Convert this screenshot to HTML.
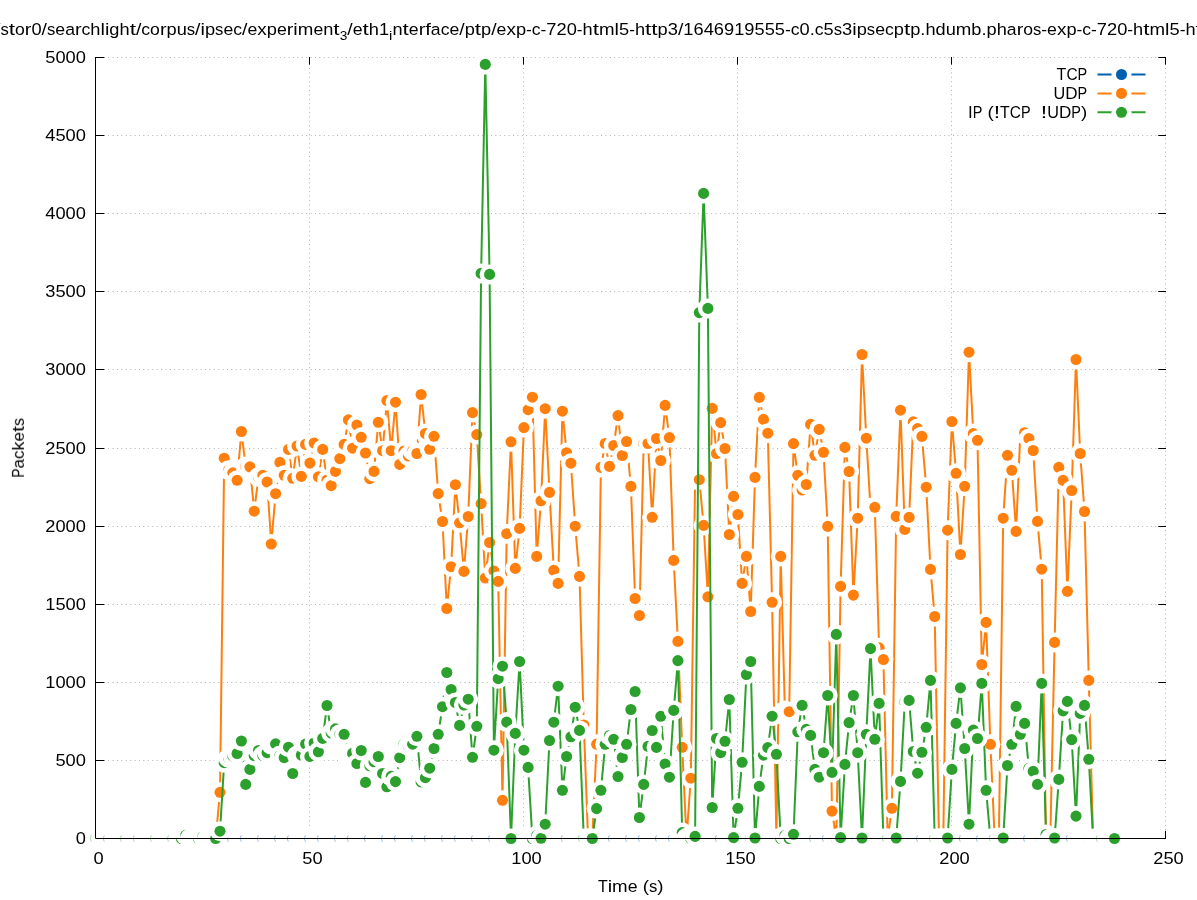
<!DOCTYPE html>
<html><head><meta charset="utf-8"><title>plot</title>
<style>html,body{margin:0;padding:0;background:#fff}svg{display:block}text{font-family:"Liberation Sans",sans-serif;fill:#000}</style></head><body>
<svg width="1197" height="900" viewBox="0 0 1197 900">
<rect width="1197" height="900" fill="#fff"/>
<g stroke="#b4b4b4" stroke-width="1" stroke-dasharray="1 3.4" fill="none">
<path d="M95 838.5H1166"/>
<path d="M95 760.5H1166"/>
<path d="M95 682.5H1166"/>
<path d="M95 604.5H1166"/>
<path d="M95 526.5H1166"/>
<path d="M95 448.5H1166"/>
<path d="M95 369.5H1166"/>
<path d="M95 291.5H1166"/>
<path d="M95 213.5H1166"/>
<path d="M95 135.5H1166"/>
<path d="M95 57.5H1166"/>
<path d="M95.5 839V57"/>
<path d="M309.5 839V57"/>
<path d="M523.5 839V57"/>
<path d="M737.5 839V57"/>
<path d="M951.5 839V57"/>
<path d="M1165.5 839V57"/>
</g>
<g stroke="#000" stroke-width="1" fill="none">
<path d="M95.5 838.5h8.8M1166 838.5h-7.8"/>
<path d="M95.5 760.5h8.8M1166 760.5h-7.8"/>
<path d="M95.5 682.5h8.8M1166 682.5h-7.8"/>
<path d="M95.5 604.5h8.8M1166 604.5h-7.8"/>
<path d="M95.5 526.5h8.8M1166 526.5h-7.8"/>
<path d="M95.5 448.5h8.8M1166 448.5h-7.8"/>
<path d="M95.5 369.5h8.8M1166 369.5h-7.8"/>
<path d="M95.5 291.5h8.8M1166 291.5h-7.8"/>
<path d="M95.5 213.5h8.8M1166 213.5h-7.8"/>
<path d="M95.5 135.5h8.8M1166 135.5h-7.8"/>
<path d="M95.5 57.5h8.8M1166 57.5h-7.8"/>
<path d="M95.5 838.5v-7.6M95.5 57v7.6"/>
<path d="M309.5 838.5v-7.6M309.5 57v7.6"/>
<path d="M523.5 838.5v-7.6M523.5 57v7.6"/>
<path d="M737.5 838.5v-7.6M737.5 57v7.6"/>
<path d="M951.5 838.5v-7.6M951.5 57v7.6"/>
<path d="M1165.5 838.5v-7.6M1165.5 57v7.6"/>
</g>
<g opacity="0.999">
<text x="75.82" y="843.90" font-size="16.90" textLength="10.18" lengthAdjust="spacingAndGlyphs">0</text>
<text x="55.46" y="765.90" font-size="16.90" textLength="10.18" lengthAdjust="spacingAndGlyphs">5</text>
<text x="65.64" y="765.90" font-size="16.90" textLength="10.18" lengthAdjust="spacingAndGlyphs">0</text>
<text x="75.82" y="765.90" font-size="16.90" textLength="10.18" lengthAdjust="spacingAndGlyphs">0</text>
<text x="45.28" y="687.90" font-size="16.90" textLength="10.18" lengthAdjust="spacingAndGlyphs">1</text>
<text x="55.46" y="687.90" font-size="16.90" textLength="10.18" lengthAdjust="spacingAndGlyphs">0</text>
<text x="65.64" y="687.90" font-size="16.90" textLength="10.18" lengthAdjust="spacingAndGlyphs">0</text>
<text x="75.82" y="687.90" font-size="16.90" textLength="10.18" lengthAdjust="spacingAndGlyphs">0</text>
<text x="45.28" y="609.90" font-size="16.90" textLength="10.18" lengthAdjust="spacingAndGlyphs">1</text>
<text x="55.46" y="609.90" font-size="16.90" textLength="10.18" lengthAdjust="spacingAndGlyphs">5</text>
<text x="65.64" y="609.90" font-size="16.90" textLength="10.18" lengthAdjust="spacingAndGlyphs">0</text>
<text x="75.82" y="609.90" font-size="16.90" textLength="10.18" lengthAdjust="spacingAndGlyphs">0</text>
<text x="45.28" y="531.90" font-size="16.90" textLength="10.18" lengthAdjust="spacingAndGlyphs">2</text>
<text x="55.46" y="531.90" font-size="16.90" textLength="10.18" lengthAdjust="spacingAndGlyphs">0</text>
<text x="65.64" y="531.90" font-size="16.90" textLength="10.18" lengthAdjust="spacingAndGlyphs">0</text>
<text x="75.82" y="531.90" font-size="16.90" textLength="10.18" lengthAdjust="spacingAndGlyphs">0</text>
<text x="45.28" y="453.90" font-size="16.90" textLength="10.18" lengthAdjust="spacingAndGlyphs">2</text>
<text x="55.46" y="453.90" font-size="16.90" textLength="10.18" lengthAdjust="spacingAndGlyphs">5</text>
<text x="65.64" y="453.90" font-size="16.90" textLength="10.18" lengthAdjust="spacingAndGlyphs">0</text>
<text x="75.82" y="453.90" font-size="16.90" textLength="10.18" lengthAdjust="spacingAndGlyphs">0</text>
<text x="45.28" y="374.90" font-size="16.90" textLength="10.18" lengthAdjust="spacingAndGlyphs">3</text>
<text x="55.46" y="374.90" font-size="16.90" textLength="10.18" lengthAdjust="spacingAndGlyphs">0</text>
<text x="65.64" y="374.90" font-size="16.90" textLength="10.18" lengthAdjust="spacingAndGlyphs">0</text>
<text x="75.82" y="374.90" font-size="16.90" textLength="10.18" lengthAdjust="spacingAndGlyphs">0</text>
<text x="45.28" y="296.90" font-size="16.90" textLength="10.18" lengthAdjust="spacingAndGlyphs">3</text>
<text x="55.46" y="296.90" font-size="16.90" textLength="10.18" lengthAdjust="spacingAndGlyphs">5</text>
<text x="65.64" y="296.90" font-size="16.90" textLength="10.18" lengthAdjust="spacingAndGlyphs">0</text>
<text x="75.82" y="296.90" font-size="16.90" textLength="10.18" lengthAdjust="spacingAndGlyphs">0</text>
<text x="45.28" y="218.90" font-size="16.90" textLength="10.18" lengthAdjust="spacingAndGlyphs">4</text>
<text x="55.46" y="218.90" font-size="16.90" textLength="10.18" lengthAdjust="spacingAndGlyphs">0</text>
<text x="65.64" y="218.90" font-size="16.90" textLength="10.18" lengthAdjust="spacingAndGlyphs">0</text>
<text x="75.82" y="218.90" font-size="16.90" textLength="10.18" lengthAdjust="spacingAndGlyphs">0</text>
<text x="45.28" y="140.90" font-size="16.90" textLength="10.18" lengthAdjust="spacingAndGlyphs">4</text>
<text x="55.46" y="140.90" font-size="16.90" textLength="10.18" lengthAdjust="spacingAndGlyphs">5</text>
<text x="65.64" y="140.90" font-size="16.90" textLength="10.18" lengthAdjust="spacingAndGlyphs">0</text>
<text x="75.82" y="140.90" font-size="16.90" textLength="10.18" lengthAdjust="spacingAndGlyphs">0</text>
<text x="45.28" y="62.90" font-size="16.90" textLength="10.18" lengthAdjust="spacingAndGlyphs">5</text>
<text x="55.46" y="62.90" font-size="16.90" textLength="10.18" lengthAdjust="spacingAndGlyphs">0</text>
<text x="65.64" y="62.90" font-size="16.90" textLength="10.18" lengthAdjust="spacingAndGlyphs">0</text>
<text x="75.82" y="62.90" font-size="16.90" textLength="10.18" lengthAdjust="spacingAndGlyphs">0</text>
<text x="93.41" y="863.60" font-size="16.90" textLength="10.18" lengthAdjust="spacingAndGlyphs">0</text>
<text x="302.32" y="863.60" font-size="16.90" textLength="10.18" lengthAdjust="spacingAndGlyphs">5</text>
<text x="312.50" y="863.60" font-size="16.90" textLength="10.18" lengthAdjust="spacingAndGlyphs">0</text>
<text x="511.23" y="863.60" font-size="16.90" textLength="10.18" lengthAdjust="spacingAndGlyphs">1</text>
<text x="521.41" y="863.60" font-size="16.90" textLength="10.18" lengthAdjust="spacingAndGlyphs">0</text>
<text x="531.59" y="863.60" font-size="16.90" textLength="10.18" lengthAdjust="spacingAndGlyphs">0</text>
<text x="725.23" y="863.60" font-size="16.90" textLength="10.18" lengthAdjust="spacingAndGlyphs">1</text>
<text x="735.41" y="863.60" font-size="16.90" textLength="10.18" lengthAdjust="spacingAndGlyphs">5</text>
<text x="745.59" y="863.60" font-size="16.90" textLength="10.18" lengthAdjust="spacingAndGlyphs">0</text>
<text x="939.23" y="863.60" font-size="16.90" textLength="10.18" lengthAdjust="spacingAndGlyphs">2</text>
<text x="949.41" y="863.60" font-size="16.90" textLength="10.18" lengthAdjust="spacingAndGlyphs">0</text>
<text x="959.59" y="863.60" font-size="16.90" textLength="10.18" lengthAdjust="spacingAndGlyphs">0</text>
<text x="1153.23" y="863.60" font-size="16.90" textLength="10.18" lengthAdjust="spacingAndGlyphs">2</text>
<text x="1163.41" y="863.60" font-size="16.90" textLength="10.18" lengthAdjust="spacingAndGlyphs">5</text>
<text x="1173.59" y="863.60" font-size="16.90" textLength="10.18" lengthAdjust="spacingAndGlyphs">0</text>
<text x="597.92" y="891.90" font-size="16.90" textLength="9.77" lengthAdjust="spacingAndGlyphs">T</text>
<text x="607.70" y="891.90" font-size="16.90" textLength="4.45" lengthAdjust="spacingAndGlyphs">i</text>
<text x="612.14" y="891.90" font-size="16.90" textLength="15.59" lengthAdjust="spacingAndGlyphs">m</text>
<text x="627.73" y="891.90" font-size="16.90" textLength="9.84" lengthAdjust="spacingAndGlyphs">e</text>
<text x="642.66" y="891.90" font-size="16.90" textLength="6.24" lengthAdjust="spacingAndGlyphs">(</text>
<text x="648.90" y="891.90" font-size="16.90" textLength="8.34" lengthAdjust="spacingAndGlyphs">s</text>
<text x="657.24" y="891.90" font-size="16.90" textLength="6.24" lengthAdjust="spacingAndGlyphs">)</text>
<g transform="translate(23.9 447.8) rotate(-90) scale(0.965 1)"><text x="-30.98" y="0.00" font-size="16.90" textLength="9.65" lengthAdjust="spacingAndGlyphs">P</text>
<text x="-21.34" y="0.00" font-size="16.90" textLength="9.80" lengthAdjust="spacingAndGlyphs">a</text>
<text x="-11.53" y="0.00" font-size="16.90" textLength="8.80" lengthAdjust="spacingAndGlyphs">c</text>
<text x="-2.73" y="0.00" font-size="16.90" textLength="9.27" lengthAdjust="spacingAndGlyphs">k</text>
<text x="6.53" y="0.00" font-size="16.90" textLength="9.84" lengthAdjust="spacingAndGlyphs">e</text>
<text x="16.38" y="0.00" font-size="16.90" textLength="6.27" lengthAdjust="spacingAndGlyphs">t</text>
<text x="22.65" y="0.00" font-size="16.90" textLength="8.34" lengthAdjust="spacingAndGlyphs">s</text></g>
<text x="1056.61" y="79.90" font-size="16.90" textLength="9.77" lengthAdjust="spacingAndGlyphs">T</text>
<text x="1066.38" y="79.90" font-size="16.90" textLength="11.17" lengthAdjust="spacingAndGlyphs">C</text>
<text x="1077.55" y="79.90" font-size="16.90" textLength="9.65" lengthAdjust="spacingAndGlyphs">P</text>
<text x="1053.52" y="99.00" font-size="16.90" textLength="11.71" lengthAdjust="spacingAndGlyphs">U</text>
<text x="1065.23" y="99.00" font-size="16.90" textLength="12.32" lengthAdjust="spacingAndGlyphs">D</text>
<text x="1077.55" y="99.00" font-size="16.90" textLength="9.65" lengthAdjust="spacingAndGlyphs">P</text>
<text x="967.99" y="118.00" font-size="16.90" textLength="4.72" lengthAdjust="spacingAndGlyphs">I</text>
<text x="972.71" y="118.00" font-size="16.90" textLength="9.65" lengthAdjust="spacingAndGlyphs">P</text>
<text x="987.44" y="118.00" font-size="16.90" textLength="6.24" lengthAdjust="spacingAndGlyphs">(</text>
<text x="993.68" y="118.00" font-size="16.90" textLength="6.41" lengthAdjust="spacingAndGlyphs">!</text>
<text x="1000.10" y="118.00" font-size="16.90" textLength="9.77" lengthAdjust="spacingAndGlyphs">T</text>
<text x="1009.87" y="118.00" font-size="16.90" textLength="11.17" lengthAdjust="spacingAndGlyphs">C</text>
<text x="1021.04" y="118.00" font-size="16.90" textLength="9.65" lengthAdjust="spacingAndGlyphs">P</text>
<text x="1040.86" y="118.00" font-size="16.90" textLength="6.41" lengthAdjust="spacingAndGlyphs">!</text>
<text x="1047.28" y="118.00" font-size="16.90" textLength="11.71" lengthAdjust="spacingAndGlyphs">U</text>
<text x="1058.99" y="118.00" font-size="16.90" textLength="12.32" lengthAdjust="spacingAndGlyphs">D</text>
<text x="1071.31" y="118.00" font-size="16.90" textLength="9.65" lengthAdjust="spacingAndGlyphs">P</text>
<text x="1080.96" y="118.00" font-size="16.90" textLength="6.24" lengthAdjust="spacingAndGlyphs">)</text>
<text x="-4.96" y="35.00" font-size="16.90" textLength="5.39" lengthAdjust="spacingAndGlyphs">/</text>
<text x="0.43" y="35.00" font-size="16.90" textLength="8.34" lengthAdjust="spacingAndGlyphs">s</text>
<text x="8.77" y="35.00" font-size="16.90" textLength="6.27" lengthAdjust="spacingAndGlyphs">t</text>
<text x="15.04" y="35.00" font-size="16.90" textLength="9.79" lengthAdjust="spacingAndGlyphs">o</text>
<text x="24.83" y="35.00" font-size="16.90" textLength="6.58" lengthAdjust="spacingAndGlyphs">r</text>
<text x="31.41" y="35.00" font-size="16.90" textLength="10.18" lengthAdjust="spacingAndGlyphs">0</text>
<text x="41.59" y="35.00" font-size="16.90" textLength="5.39" lengthAdjust="spacingAndGlyphs">/</text>
<text x="46.98" y="35.00" font-size="16.90" textLength="8.34" lengthAdjust="spacingAndGlyphs">s</text>
<text x="55.31" y="35.00" font-size="16.90" textLength="9.84" lengthAdjust="spacingAndGlyphs">e</text>
<text x="65.16" y="35.00" font-size="16.90" textLength="9.80" lengthAdjust="spacingAndGlyphs">a</text>
<text x="74.96" y="35.00" font-size="16.90" textLength="6.58" lengthAdjust="spacingAndGlyphs">r</text>
<text x="81.54" y="35.00" font-size="16.90" textLength="8.80" lengthAdjust="spacingAndGlyphs">c</text>
<text x="90.34" y="35.00" font-size="16.90" textLength="10.14" lengthAdjust="spacingAndGlyphs">h</text>
<text x="100.48" y="35.00" font-size="16.90" textLength="4.45" lengthAdjust="spacingAndGlyphs">l</text>
<text x="104.92" y="35.00" font-size="16.90" textLength="4.45" lengthAdjust="spacingAndGlyphs">i</text>
<text x="109.37" y="35.00" font-size="16.90" textLength="10.16" lengthAdjust="spacingAndGlyphs">g</text>
<text x="119.52" y="35.00" font-size="16.90" textLength="10.14" lengthAdjust="spacingAndGlyphs">h</text>
<text x="129.66" y="35.00" font-size="16.90" textLength="6.27" lengthAdjust="spacingAndGlyphs">t</text>
<text x="135.94" y="35.00" font-size="16.90" textLength="5.39" lengthAdjust="spacingAndGlyphs">/</text>
<text x="141.33" y="35.00" font-size="16.90" textLength="8.80" lengthAdjust="spacingAndGlyphs">c</text>
<text x="150.13" y="35.00" font-size="16.90" textLength="9.79" lengthAdjust="spacingAndGlyphs">o</text>
<text x="159.91" y="35.00" font-size="16.90" textLength="6.58" lengthAdjust="spacingAndGlyphs">r</text>
<text x="166.49" y="35.00" font-size="16.90" textLength="10.16" lengthAdjust="spacingAndGlyphs">p</text>
<text x="176.65" y="35.00" font-size="16.90" textLength="10.14" lengthAdjust="spacingAndGlyphs">u</text>
<text x="186.79" y="35.00" font-size="16.90" textLength="8.34" lengthAdjust="spacingAndGlyphs">s</text>
<text x="195.13" y="35.00" font-size="16.90" textLength="5.39" lengthAdjust="spacingAndGlyphs">/</text>
<text x="200.52" y="35.00" font-size="16.90" textLength="4.45" lengthAdjust="spacingAndGlyphs">i</text>
<text x="204.96" y="35.00" font-size="16.90" textLength="10.16" lengthAdjust="spacingAndGlyphs">p</text>
<text x="215.12" y="35.00" font-size="16.90" textLength="8.34" lengthAdjust="spacingAndGlyphs">s</text>
<text x="223.45" y="35.00" font-size="16.90" textLength="9.84" lengthAdjust="spacingAndGlyphs">e</text>
<text x="233.30" y="35.00" font-size="16.90" textLength="8.80" lengthAdjust="spacingAndGlyphs">c</text>
<text x="242.09" y="35.00" font-size="16.90" textLength="5.39" lengthAdjust="spacingAndGlyphs">/</text>
<text x="247.49" y="35.00" font-size="16.90" textLength="9.84" lengthAdjust="spacingAndGlyphs">e</text>
<text x="257.33" y="35.00" font-size="16.90" textLength="9.47" lengthAdjust="spacingAndGlyphs">x</text>
<text x="266.80" y="35.00" font-size="16.90" textLength="10.16" lengthAdjust="spacingAndGlyphs">p</text>
<text x="276.95" y="35.00" font-size="16.90" textLength="9.84" lengthAdjust="spacingAndGlyphs">e</text>
<text x="286.80" y="35.00" font-size="16.90" textLength="6.58" lengthAdjust="spacingAndGlyphs">r</text>
<text x="293.38" y="35.00" font-size="16.90" textLength="4.45" lengthAdjust="spacingAndGlyphs">i</text>
<text x="297.82" y="35.00" font-size="16.90" textLength="15.59" lengthAdjust="spacingAndGlyphs">m</text>
<text x="313.41" y="35.00" font-size="16.90" textLength="9.84" lengthAdjust="spacingAndGlyphs">e</text>
<text x="323.25" y="35.00" font-size="16.90" textLength="10.14" lengthAdjust="spacingAndGlyphs">n</text>
<text x="333.39" y="35.00" font-size="16.90" textLength="6.27" lengthAdjust="spacingAndGlyphs">t</text>
<text x="339.66" y="39.50" font-size="12.67" textLength="7.63" lengthAdjust="spacingAndGlyphs">3</text>
<text x="347.30" y="35.00" font-size="16.90" textLength="5.39" lengthAdjust="spacingAndGlyphs">/</text>
<text x="352.69" y="35.00" font-size="16.90" textLength="9.84" lengthAdjust="spacingAndGlyphs">e</text>
<text x="362.53" y="35.00" font-size="16.90" textLength="6.27" lengthAdjust="spacingAndGlyphs">t</text>
<text x="368.81" y="35.00" font-size="16.90" textLength="10.14" lengthAdjust="spacingAndGlyphs">h</text>
<text x="378.95" y="35.00" font-size="16.90" textLength="10.18" lengthAdjust="spacingAndGlyphs">1</text>
<text x="389.13" y="39.50" font-size="12.67" textLength="3.33" lengthAdjust="spacingAndGlyphs">i</text>
<text x="392.46" y="35.00" font-size="16.90" textLength="10.13" lengthAdjust="spacingAndGlyphs">n</text>
<text x="402.59" y="35.00" font-size="16.90" textLength="6.27" lengthAdjust="spacingAndGlyphs">t</text>
<text x="408.86" y="35.00" font-size="16.90" textLength="9.83" lengthAdjust="spacingAndGlyphs">e</text>
<text x="418.69" y="35.00" font-size="16.90" textLength="6.57" lengthAdjust="spacingAndGlyphs">r</text>
<text x="425.26" y="35.00" font-size="16.90" textLength="5.63" lengthAdjust="spacingAndGlyphs">f</text>
<text x="430.88" y="35.00" font-size="16.90" textLength="9.79" lengthAdjust="spacingAndGlyphs">a</text>
<text x="440.68" y="35.00" font-size="16.90" textLength="8.79" lengthAdjust="spacingAndGlyphs">c</text>
<text x="449.46" y="35.00" font-size="16.90" textLength="9.83" lengthAdjust="spacingAndGlyphs">e</text>
<text x="459.30" y="35.00" font-size="16.90" textLength="5.38" lengthAdjust="spacingAndGlyphs">/</text>
<text x="464.68" y="35.00" font-size="16.90" textLength="10.14" lengthAdjust="spacingAndGlyphs">p</text>
<text x="474.82" y="35.00" font-size="16.90" textLength="6.27" lengthAdjust="spacingAndGlyphs">t</text>
<text x="481.09" y="35.00" font-size="16.90" textLength="10.14" lengthAdjust="spacingAndGlyphs">p</text>
<text x="491.23" y="35.00" font-size="16.90" textLength="5.38" lengthAdjust="spacingAndGlyphs">/</text>
<text x="496.62" y="35.00" font-size="16.90" textLength="9.83" lengthAdjust="spacingAndGlyphs">e</text>
<text x="506.45" y="35.00" font-size="16.90" textLength="9.46" lengthAdjust="spacingAndGlyphs">x</text>
<text x="515.91" y="35.00" font-size="16.90" textLength="10.14" lengthAdjust="spacingAndGlyphs">p</text>
<text x="526.05" y="35.00" font-size="16.90" textLength="5.77" lengthAdjust="spacingAndGlyphs">-</text>
<text x="531.82" y="35.00" font-size="16.90" textLength="8.79" lengthAdjust="spacingAndGlyphs">c</text>
<text x="540.60" y="35.00" font-size="16.90" textLength="5.77" lengthAdjust="spacingAndGlyphs">-</text>
<text x="546.37" y="35.00" font-size="16.90" textLength="10.17" lengthAdjust="spacingAndGlyphs">7</text>
<text x="556.54" y="35.00" font-size="16.90" textLength="10.17" lengthAdjust="spacingAndGlyphs">2</text>
<text x="566.71" y="35.00" font-size="16.90" textLength="10.17" lengthAdjust="spacingAndGlyphs">0</text>
<text x="576.87" y="35.00" font-size="16.90" textLength="5.77" lengthAdjust="spacingAndGlyphs">-</text>
<text x="582.64" y="35.00" font-size="16.90" textLength="10.13" lengthAdjust="spacingAndGlyphs">h</text>
<text x="592.77" y="35.00" font-size="16.90" textLength="6.27" lengthAdjust="spacingAndGlyphs">t</text>
<text x="599.03" y="35.00" font-size="16.90" textLength="15.57" lengthAdjust="spacingAndGlyphs">m</text>
<text x="614.60" y="35.00" font-size="16.90" textLength="4.44" lengthAdjust="spacingAndGlyphs">l</text>
<text x="619.04" y="35.00" font-size="16.90" textLength="10.17" lengthAdjust="spacingAndGlyphs">5</text>
<text x="629.21" y="35.00" font-size="16.90" textLength="5.77" lengthAdjust="spacingAndGlyphs">-</text>
<text x="634.98" y="35.00" font-size="16.90" textLength="10.13" lengthAdjust="spacingAndGlyphs">h</text>
<text x="645.10" y="35.00" font-size="16.90" textLength="6.27" lengthAdjust="spacingAndGlyphs">t</text>
<text x="651.37" y="35.00" font-size="16.90" textLength="6.27" lengthAdjust="spacingAndGlyphs">t</text>
<text x="657.64" y="35.00" font-size="16.90" textLength="10.14" lengthAdjust="spacingAndGlyphs">p</text>
<text x="667.78" y="35.00" font-size="16.90" textLength="10.17" lengthAdjust="spacingAndGlyphs">3</text>
<text x="677.95" y="35.00" font-size="16.90" textLength="5.38" lengthAdjust="spacingAndGlyphs">/</text>
<text x="683.33" y="35.00" font-size="16.90" textLength="10.17" lengthAdjust="spacingAndGlyphs">1</text>
<text x="693.50" y="35.00" font-size="16.90" textLength="10.17" lengthAdjust="spacingAndGlyphs">6</text>
<text x="703.67" y="35.00" font-size="16.90" textLength="10.17" lengthAdjust="spacingAndGlyphs">4</text>
<text x="713.83" y="35.00" font-size="16.90" textLength="10.17" lengthAdjust="spacingAndGlyphs">6</text>
<text x="724.00" y="35.00" font-size="16.90" textLength="10.17" lengthAdjust="spacingAndGlyphs">9</text>
<text x="734.17" y="35.00" font-size="16.90" textLength="10.17" lengthAdjust="spacingAndGlyphs">1</text>
<text x="744.34" y="35.00" font-size="16.90" textLength="10.17" lengthAdjust="spacingAndGlyphs">9</text>
<text x="754.50" y="35.00" font-size="16.90" textLength="10.17" lengthAdjust="spacingAndGlyphs">5</text>
<text x="764.67" y="35.00" font-size="16.90" textLength="10.17" lengthAdjust="spacingAndGlyphs">5</text>
<text x="774.84" y="35.00" font-size="16.90" textLength="10.17" lengthAdjust="spacingAndGlyphs">5</text>
<text x="785.01" y="35.00" font-size="16.90" textLength="5.77" lengthAdjust="spacingAndGlyphs">-</text>
<text x="790.77" y="35.00" font-size="16.90" textLength="8.79" lengthAdjust="spacingAndGlyphs">c</text>
<text x="799.56" y="35.00" font-size="16.90" textLength="10.17" lengthAdjust="spacingAndGlyphs">0</text>
<text x="809.73" y="35.00" font-size="16.90" textLength="5.08" lengthAdjust="spacingAndGlyphs">.</text>
<text x="814.81" y="35.00" font-size="16.90" textLength="8.79" lengthAdjust="spacingAndGlyphs">c</text>
<text x="823.59" y="35.00" font-size="16.90" textLength="10.17" lengthAdjust="spacingAndGlyphs">5</text>
<text x="833.76" y="35.00" font-size="16.90" textLength="8.33" lengthAdjust="spacingAndGlyphs">s</text>
<text x="842.09" y="35.00" font-size="16.90" textLength="10.17" lengthAdjust="spacingAndGlyphs">3</text>
<text x="852.25" y="35.00" font-size="16.90" textLength="4.44" lengthAdjust="spacingAndGlyphs">i</text>
<text x="856.69" y="35.00" font-size="16.90" textLength="10.14" lengthAdjust="spacingAndGlyphs">p</text>
<text x="866.84" y="35.00" font-size="16.90" textLength="8.33" lengthAdjust="spacingAndGlyphs">s</text>
<text x="875.16" y="35.00" font-size="16.90" textLength="9.83" lengthAdjust="spacingAndGlyphs">e</text>
<text x="885.00" y="35.00" font-size="16.90" textLength="8.79" lengthAdjust="spacingAndGlyphs">c</text>
<text x="893.78" y="35.00" font-size="16.90" textLength="10.14" lengthAdjust="spacingAndGlyphs">p</text>
<text x="903.93" y="35.00" font-size="16.90" textLength="6.27" lengthAdjust="spacingAndGlyphs">t</text>
<text x="910.19" y="35.00" font-size="16.90" textLength="10.14" lengthAdjust="spacingAndGlyphs">p</text>
<text x="920.34" y="35.00" font-size="16.90" textLength="5.08" lengthAdjust="spacingAndGlyphs">.</text>
<text x="925.42" y="35.00" font-size="16.90" textLength="10.13" lengthAdjust="spacingAndGlyphs">h</text>
<text x="935.54" y="35.00" font-size="16.90" textLength="10.14" lengthAdjust="spacingAndGlyphs">d</text>
<text x="945.69" y="35.00" font-size="16.90" textLength="10.13" lengthAdjust="spacingAndGlyphs">u</text>
<text x="955.82" y="35.00" font-size="16.90" textLength="15.57" lengthAdjust="spacingAndGlyphs">m</text>
<text x="971.38" y="35.00" font-size="16.90" textLength="10.14" lengthAdjust="spacingAndGlyphs">b</text>
<text x="981.53" y="35.00" font-size="16.90" textLength="5.08" lengthAdjust="spacingAndGlyphs">.</text>
<text x="986.61" y="35.00" font-size="16.90" textLength="10.14" lengthAdjust="spacingAndGlyphs">p</text>
<text x="996.75" y="35.00" font-size="16.90" textLength="10.13" lengthAdjust="spacingAndGlyphs">h</text>
<text x="1006.88" y="35.00" font-size="16.90" textLength="9.79" lengthAdjust="spacingAndGlyphs">a</text>
<text x="1016.67" y="35.00" font-size="16.90" textLength="6.57" lengthAdjust="spacingAndGlyphs">r</text>
<text x="1023.24" y="35.00" font-size="16.90" textLength="9.78" lengthAdjust="spacingAndGlyphs">o</text>
<text x="1033.02" y="35.00" font-size="16.90" textLength="8.33" lengthAdjust="spacingAndGlyphs">s</text>
<text x="1041.35" y="35.00" font-size="16.90" textLength="5.77" lengthAdjust="spacingAndGlyphs">-</text>
<text x="1047.11" y="35.00" font-size="16.90" textLength="9.83" lengthAdjust="spacingAndGlyphs">e</text>
<text x="1056.94" y="35.00" font-size="16.90" textLength="9.46" lengthAdjust="spacingAndGlyphs">x</text>
<text x="1066.40" y="35.00" font-size="16.90" textLength="10.14" lengthAdjust="spacingAndGlyphs">p</text>
<text x="1076.55" y="35.00" font-size="16.90" textLength="5.77" lengthAdjust="spacingAndGlyphs">-</text>
<text x="1082.31" y="35.00" font-size="16.90" textLength="8.79" lengthAdjust="spacingAndGlyphs">c</text>
<text x="1091.10" y="35.00" font-size="16.90" textLength="5.77" lengthAdjust="spacingAndGlyphs">-</text>
<text x="1096.87" y="35.00" font-size="16.90" textLength="10.17" lengthAdjust="spacingAndGlyphs">7</text>
<text x="1107.03" y="35.00" font-size="16.90" textLength="10.17" lengthAdjust="spacingAndGlyphs">2</text>
<text x="1117.20" y="35.00" font-size="16.90" textLength="10.17" lengthAdjust="spacingAndGlyphs">0</text>
<text x="1127.37" y="35.00" font-size="16.90" textLength="5.77" lengthAdjust="spacingAndGlyphs">-</text>
<text x="1133.13" y="35.00" font-size="16.90" textLength="10.13" lengthAdjust="spacingAndGlyphs">h</text>
<text x="1143.26" y="35.00" font-size="16.90" textLength="6.27" lengthAdjust="spacingAndGlyphs">t</text>
<text x="1149.53" y="35.00" font-size="16.90" textLength="15.57" lengthAdjust="spacingAndGlyphs">m</text>
<text x="1165.10" y="35.00" font-size="16.90" textLength="4.44" lengthAdjust="spacingAndGlyphs">l</text>
<text x="1169.54" y="35.00" font-size="16.90" textLength="10.17" lengthAdjust="spacingAndGlyphs">5</text>
<text x="1179.70" y="35.00" font-size="16.90" textLength="5.77" lengthAdjust="spacingAndGlyphs">-</text>
<text x="1185.47" y="35.00" font-size="16.90" textLength="10.13" lengthAdjust="spacingAndGlyphs">h</text>
<text x="1195.60" y="35.00" font-size="16.90" textLength="6.27" lengthAdjust="spacingAndGlyphs">t</text>
<text x="1201.86" y="35.00" font-size="16.90" textLength="6.27" lengthAdjust="spacingAndGlyphs">t</text>
<text x="1208.13" y="35.00" font-size="16.90" textLength="10.14" lengthAdjust="spacingAndGlyphs">p</text>
<text x="1218.27" y="35.00" font-size="16.90" textLength="10.17" lengthAdjust="spacingAndGlyphs">3</text>
</g>
<path d="M1097.5 74.5H1145.5" stroke="#0060ad" stroke-width="2"/><circle cx="1121.5" cy="74.5" r="10.0" fill="#fff"/><circle cx="1121.5" cy="74.5" r="5.55" fill="#0060ad"/>
<path d="M1097.5 93.4H1145.5" stroke="#ff7f0e" stroke-width="2"/><circle cx="1121.5" cy="93.4" r="10.0" fill="#fff"/><circle cx="1121.5" cy="93.4" r="5.55" fill="#ff7f0e"/>
<path d="M1097.5 112.3H1145.5" stroke="#2ca02c" stroke-width="2"/><circle cx="1121.5" cy="112.3" r="10.0" fill="#fff"/><circle cx="1121.5" cy="112.3" r="5.55" fill="#2ca02c"/>
<g fill="#0060ad">
<path d="M95.8 838.5 L100.1 838.5 L104.4 838.5 L108.7 838.5 L113.0 838.5 L117.2 838.5 L121.5 838.5 L125.8 838.5 L130.1 838.5 L134.4 838.5 L138.7 838.5 L142.9 838.5 L147.2 838.5 L151.5 838.5 L155.8 838.5 L160.1 838.5 L164.3 838.5 L168.6 838.5 L172.9 838.5 L177.2 838.5 L181.4 838.5 L185.7 838.5 L190.0 838.5 L194.3 838.5 L198.6 838.5 L202.8 838.5 L207.1 838.5 L211.4 838.5 L215.7 838.5 L220.0 838.5 L224.2 838.5 L228.5 838.5 L232.8 838.5 L237.1 838.5 L241.4 838.5 L245.7 838.5 L249.9 838.5 L254.2 838.5 L258.5 838.5 L262.8 838.5 L267.1 838.5 L271.3 838.5 L275.6 838.5 L279.9 838.5 L284.2 838.5 L288.5 838.5 L292.7 838.5 L297.0 838.5 L301.3 838.5 L305.6 838.5 L309.9 838.5 L314.1 838.5 L318.4 838.5 L322.7 838.5 L327.0 838.5 L331.2 838.5 L335.5 838.5 L339.8 838.5 L344.1 838.5 L348.4 838.5 L352.6 838.5 L356.9 838.5 L361.2 838.5 L365.5 838.5 L369.8 838.5 L374.0 838.5 L378.3 838.5 L382.6 838.5 L386.9 838.5 L391.2 838.5 L395.5 838.5 L399.7 838.5 L404.0 838.5 L408.3 838.5 L412.6 838.5 L416.9 838.5 L421.1 838.5 L425.4 838.5 L429.7 838.5 L434.0 838.5 L438.2 838.5 L442.5 838.5 L446.8 838.5 L451.1 838.5 L455.4 838.5 L459.6 838.5 L463.9 838.5 L468.2 838.5 L472.5 838.5 L476.8 838.5 L481.1 838.5 L485.3 838.5 L489.6 838.5 L493.9 838.5 L498.2 838.5 L502.5 838.5 L506.7 838.5 L511.0 838.5 L515.3 838.5 L519.6 838.5 L523.9 838.5 L528.1 838.5 L532.4 838.5 L536.7 838.5 L541.0 838.5 L545.2 838.5 L549.5 838.5 L553.8 838.5 L558.1 838.5 L562.4 838.5 L566.6 838.5 L570.9 838.5 L575.2 838.5 L579.5 838.5 L583.8 838.5 L588.1 838.5 L592.3 838.5 L596.6 838.5 L600.9 838.5 L605.2 838.5 L609.5 838.5 L613.7 838.5 L618.0 838.5 L622.3 838.5 L626.6 838.5 L630.9 838.5 L635.1 838.5 L639.4 838.5 L643.7 838.5 L648.0 838.5 L652.2 838.5 L656.5 838.5 L660.8 838.5 L665.1 838.5 L669.4 838.5 L673.7 838.5 L677.9 838.5 L682.2 838.5 L686.5 838.5 L690.8 838.5 L695.1 838.5 L699.3 838.5 L703.6 838.5 L707.9 838.5 L712.2 838.5 L716.5 838.5 L720.7 838.5 L725.0 838.5 L729.3 838.5 L733.6 838.5 L737.9 838.5 L742.1 838.5 L746.4 838.5 L750.7 838.5 L755.0 838.5 L759.3 838.5 L763.5 838.5 L767.8 838.5 L772.1 838.5 L776.4 838.5 L780.7 838.5 L784.9 838.5 L789.2 838.5 L793.5 838.5 L797.8 838.5 L802.1 838.5 L806.3 838.5 L810.6 838.5 L814.9 838.5 L819.2 838.5 L823.5 838.5 L827.7 838.5 L832.0 838.5 L836.3 838.5 L840.6 838.5 L844.9 838.5 L849.1 838.5 L853.4 838.5 L857.7 838.5 L862.0 838.5 L866.3 838.5 L870.5 838.5 L874.8 838.5 L879.1 838.5 L883.4 838.5 L887.7 838.5 L891.9 838.5 L896.2 838.5 L900.5 838.5 L904.8 838.5 L909.1 838.5 L913.3 838.5 L917.6 838.5 L921.9 838.5 L926.2 838.5 L930.5 838.5 L934.7 838.5 L939.0 838.5 L943.3 838.5 L947.6 838.5 L951.9 838.5 L956.1 838.5 L960.4 838.5 L964.7 838.5 L969.0 838.5 L973.3 838.5 L977.5 838.5 L981.8 838.5 L986.1 838.5 L990.4 838.5 L994.7 838.5 L998.9 838.5 L1003.2 838.5 L1007.5 838.5 L1011.8 838.5 L1016.1 838.5 L1020.3 838.5 L1024.6 838.5 L1028.9 838.5 L1033.2 838.5 L1037.5 838.5 L1041.7 838.5 L1046.0 838.5 L1050.3 838.5 L1054.6 838.5 L1058.8 838.5 L1063.1 838.5 L1067.4 838.5 L1071.7 838.5 L1076.0 838.5 L1080.2 838.5 L1084.5 838.5 L1088.8 838.5 L1093.1 838.5 L1097.4 838.5 L1101.7 838.5 L1105.9 838.5 L1110.2 838.5 L1114.5 838.5" fill="none" stroke="#0060ad" stroke-width="2" stroke-linejoin="round"/>
<circle cx="95.8" cy="838.5" r="10.0" fill="#fff"/>
<circle cx="100.1" cy="838.5" r="10.0" fill="#fff"/>
<circle cx="104.4" cy="838.5" r="10.0" fill="#fff"/>
<circle cx="108.7" cy="838.5" r="10.0" fill="#fff"/>
<circle cx="113.0" cy="838.5" r="10.0" fill="#fff"/>
<circle cx="117.2" cy="838.5" r="10.0" fill="#fff"/>
<circle cx="121.5" cy="838.5" r="10.0" fill="#fff"/>
<circle cx="125.8" cy="838.5" r="10.0" fill="#fff"/>
<circle cx="130.1" cy="838.5" r="10.0" fill="#fff"/>
<circle cx="134.4" cy="838.5" r="10.0" fill="#fff"/>
<circle cx="138.7" cy="838.5" r="10.0" fill="#fff"/>
<circle cx="142.9" cy="838.5" r="10.0" fill="#fff"/>
<circle cx="147.2" cy="838.5" r="10.0" fill="#fff"/>
<circle cx="151.5" cy="838.5" r="10.0" fill="#fff"/>
<circle cx="155.8" cy="838.5" r="10.0" fill="#fff"/>
<circle cx="160.1" cy="838.5" r="10.0" fill="#fff"/>
<circle cx="164.3" cy="838.5" r="10.0" fill="#fff"/>
<circle cx="168.6" cy="838.5" r="10.0" fill="#fff"/>
<circle cx="172.9" cy="838.5" r="10.0" fill="#fff"/>
<circle cx="177.2" cy="838.5" r="10.0" fill="#fff"/>
<circle cx="181.4" cy="838.5" r="10.0" fill="#fff"/>
<circle cx="185.7" cy="838.5" r="10.0" fill="#fff"/>
<circle cx="190.0" cy="838.5" r="10.0" fill="#fff"/>
<circle cx="194.3" cy="838.5" r="10.0" fill="#fff"/>
<circle cx="198.6" cy="838.5" r="10.0" fill="#fff"/>
<circle cx="202.8" cy="838.5" r="10.0" fill="#fff"/>
<circle cx="207.1" cy="838.5" r="10.0" fill="#fff"/>
<circle cx="211.4" cy="838.5" r="10.0" fill="#fff"/>
<circle cx="215.7" cy="838.5" r="10.0" fill="#fff"/>
<circle cx="220.0" cy="838.5" r="10.0" fill="#fff"/>
<circle cx="224.2" cy="838.5" r="10.0" fill="#fff"/>
<circle cx="228.5" cy="838.5" r="10.0" fill="#fff"/>
<circle cx="232.8" cy="838.5" r="10.0" fill="#fff"/>
<circle cx="237.1" cy="838.5" r="10.0" fill="#fff"/>
<circle cx="241.4" cy="838.5" r="10.0" fill="#fff"/>
<circle cx="245.7" cy="838.5" r="10.0" fill="#fff"/>
<circle cx="249.9" cy="838.5" r="10.0" fill="#fff"/>
<circle cx="254.2" cy="838.5" r="10.0" fill="#fff"/>
<circle cx="258.5" cy="838.5" r="10.0" fill="#fff"/>
<circle cx="262.8" cy="838.5" r="10.0" fill="#fff"/>
<circle cx="267.1" cy="838.5" r="10.0" fill="#fff"/>
<circle cx="271.3" cy="838.5" r="10.0" fill="#fff"/>
<circle cx="275.6" cy="838.5" r="10.0" fill="#fff"/>
<circle cx="279.9" cy="838.5" r="10.0" fill="#fff"/>
<circle cx="284.2" cy="838.5" r="10.0" fill="#fff"/>
<circle cx="288.5" cy="838.5" r="10.0" fill="#fff"/>
<circle cx="292.7" cy="838.5" r="10.0" fill="#fff"/>
<circle cx="297.0" cy="838.5" r="10.0" fill="#fff"/>
<circle cx="301.3" cy="838.5" r="10.0" fill="#fff"/>
<circle cx="305.6" cy="838.5" r="10.0" fill="#fff"/>
<circle cx="309.9" cy="838.5" r="10.0" fill="#fff"/>
<circle cx="314.1" cy="838.5" r="10.0" fill="#fff"/>
<circle cx="318.4" cy="838.5" r="10.0" fill="#fff"/>
<circle cx="322.7" cy="838.5" r="10.0" fill="#fff"/>
<circle cx="327.0" cy="838.5" r="10.0" fill="#fff"/>
<circle cx="331.2" cy="838.5" r="10.0" fill="#fff"/>
<circle cx="335.5" cy="838.5" r="10.0" fill="#fff"/>
<circle cx="339.8" cy="838.5" r="10.0" fill="#fff"/>
<circle cx="344.1" cy="838.5" r="10.0" fill="#fff"/>
<circle cx="348.4" cy="838.5" r="10.0" fill="#fff"/>
<circle cx="352.6" cy="838.5" r="10.0" fill="#fff"/>
<circle cx="356.9" cy="838.5" r="10.0" fill="#fff"/>
<circle cx="361.2" cy="838.5" r="10.0" fill="#fff"/>
<circle cx="365.5" cy="838.5" r="10.0" fill="#fff"/>
<circle cx="369.8" cy="838.5" r="10.0" fill="#fff"/>
<circle cx="374.0" cy="838.5" r="10.0" fill="#fff"/>
<circle cx="378.3" cy="838.5" r="10.0" fill="#fff"/>
<circle cx="382.6" cy="838.5" r="10.0" fill="#fff"/>
<circle cx="386.9" cy="838.5" r="10.0" fill="#fff"/>
<circle cx="391.2" cy="838.5" r="10.0" fill="#fff"/>
<circle cx="395.5" cy="838.5" r="10.0" fill="#fff"/>
<circle cx="399.7" cy="838.5" r="10.0" fill="#fff"/>
<circle cx="404.0" cy="838.5" r="10.0" fill="#fff"/>
<circle cx="408.3" cy="838.5" r="10.0" fill="#fff"/>
<circle cx="412.6" cy="838.5" r="10.0" fill="#fff"/>
<circle cx="416.9" cy="838.5" r="10.0" fill="#fff"/>
<circle cx="421.1" cy="838.5" r="10.0" fill="#fff"/>
<circle cx="425.4" cy="838.5" r="10.0" fill="#fff"/>
<circle cx="429.7" cy="838.5" r="10.0" fill="#fff"/>
<circle cx="434.0" cy="838.5" r="10.0" fill="#fff"/>
<circle cx="438.2" cy="838.5" r="10.0" fill="#fff"/>
<circle cx="442.5" cy="838.5" r="10.0" fill="#fff"/>
<circle cx="446.8" cy="838.5" r="10.0" fill="#fff"/>
<circle cx="451.1" cy="838.5" r="10.0" fill="#fff"/>
<circle cx="455.4" cy="838.5" r="10.0" fill="#fff"/>
<circle cx="459.6" cy="838.5" r="10.0" fill="#fff"/>
<circle cx="463.9" cy="838.5" r="10.0" fill="#fff"/>
<circle cx="468.2" cy="838.5" r="10.0" fill="#fff"/>
<circle cx="472.5" cy="838.5" r="10.0" fill="#fff"/>
<circle cx="476.8" cy="838.5" r="10.0" fill="#fff"/>
<circle cx="481.1" cy="838.5" r="10.0" fill="#fff"/>
<circle cx="485.3" cy="838.5" r="10.0" fill="#fff"/>
<circle cx="489.6" cy="838.5" r="10.0" fill="#fff"/>
<circle cx="493.9" cy="838.5" r="10.0" fill="#fff"/>
<circle cx="498.2" cy="838.5" r="10.0" fill="#fff"/>
<circle cx="502.5" cy="838.5" r="10.0" fill="#fff"/>
<circle cx="506.7" cy="838.5" r="10.0" fill="#fff"/>
<circle cx="511.0" cy="838.5" r="10.0" fill="#fff"/>
<circle cx="515.3" cy="838.5" r="10.0" fill="#fff"/>
<circle cx="519.6" cy="838.5" r="10.0" fill="#fff"/>
<circle cx="523.9" cy="838.5" r="10.0" fill="#fff"/>
<circle cx="528.1" cy="838.5" r="10.0" fill="#fff"/>
<circle cx="532.4" cy="838.5" r="10.0" fill="#fff"/>
<circle cx="536.7" cy="838.5" r="10.0" fill="#fff"/>
<circle cx="541.0" cy="838.5" r="10.0" fill="#fff"/>
<circle cx="545.2" cy="838.5" r="10.0" fill="#fff"/>
<circle cx="549.5" cy="838.5" r="10.0" fill="#fff"/>
<circle cx="553.8" cy="838.5" r="10.0" fill="#fff"/>
<circle cx="558.1" cy="838.5" r="10.0" fill="#fff"/>
<circle cx="562.4" cy="838.5" r="10.0" fill="#fff"/>
<circle cx="566.6" cy="838.5" r="10.0" fill="#fff"/>
<circle cx="570.9" cy="838.5" r="10.0" fill="#fff"/>
<circle cx="575.2" cy="838.5" r="10.0" fill="#fff"/>
<circle cx="579.5" cy="838.5" r="10.0" fill="#fff"/>
<circle cx="583.8" cy="838.5" r="10.0" fill="#fff"/>
<circle cx="588.1" cy="838.5" r="10.0" fill="#fff"/>
<circle cx="592.3" cy="838.5" r="10.0" fill="#fff"/>
<circle cx="596.6" cy="838.5" r="10.0" fill="#fff"/>
<circle cx="600.9" cy="838.5" r="10.0" fill="#fff"/>
<circle cx="605.2" cy="838.5" r="10.0" fill="#fff"/>
<circle cx="609.5" cy="838.5" r="10.0" fill="#fff"/>
<circle cx="613.7" cy="838.5" r="10.0" fill="#fff"/>
<circle cx="618.0" cy="838.5" r="10.0" fill="#fff"/>
<circle cx="622.3" cy="838.5" r="10.0" fill="#fff"/>
<circle cx="626.6" cy="838.5" r="10.0" fill="#fff"/>
<circle cx="630.9" cy="838.5" r="10.0" fill="#fff"/>
<circle cx="635.1" cy="838.5" r="10.0" fill="#fff"/>
<circle cx="639.4" cy="838.5" r="10.0" fill="#fff"/>
<circle cx="643.7" cy="838.5" r="10.0" fill="#fff"/>
<circle cx="648.0" cy="838.5" r="10.0" fill="#fff"/>
<circle cx="652.2" cy="838.5" r="10.0" fill="#fff"/>
<circle cx="656.5" cy="838.5" r="10.0" fill="#fff"/>
<circle cx="660.8" cy="838.5" r="10.0" fill="#fff"/>
<circle cx="665.1" cy="838.5" r="10.0" fill="#fff"/>
<circle cx="669.4" cy="838.5" r="10.0" fill="#fff"/>
<circle cx="673.7" cy="838.5" r="10.0" fill="#fff"/>
<circle cx="677.9" cy="838.5" r="10.0" fill="#fff"/>
<circle cx="682.2" cy="838.5" r="10.0" fill="#fff"/>
<circle cx="686.5" cy="838.5" r="10.0" fill="#fff"/>
<circle cx="690.8" cy="838.5" r="10.0" fill="#fff"/>
<circle cx="695.1" cy="838.5" r="10.0" fill="#fff"/>
<circle cx="699.3" cy="838.5" r="10.0" fill="#fff"/>
<circle cx="703.6" cy="838.5" r="10.0" fill="#fff"/>
<circle cx="707.9" cy="838.5" r="10.0" fill="#fff"/>
<circle cx="712.2" cy="838.5" r="10.0" fill="#fff"/>
<circle cx="716.5" cy="838.5" r="10.0" fill="#fff"/>
<circle cx="720.7" cy="838.5" r="10.0" fill="#fff"/>
<circle cx="725.0" cy="838.5" r="10.0" fill="#fff"/>
<circle cx="729.3" cy="838.5" r="10.0" fill="#fff"/>
<circle cx="733.6" cy="838.5" r="10.0" fill="#fff"/>
<circle cx="737.9" cy="838.5" r="10.0" fill="#fff"/>
<circle cx="742.1" cy="838.5" r="10.0" fill="#fff"/>
<circle cx="746.4" cy="838.5" r="10.0" fill="#fff"/>
<circle cx="750.7" cy="838.5" r="10.0" fill="#fff"/>
<circle cx="755.0" cy="838.5" r="10.0" fill="#fff"/>
<circle cx="759.3" cy="838.5" r="10.0" fill="#fff"/>
<circle cx="763.5" cy="838.5" r="10.0" fill="#fff"/>
<circle cx="767.8" cy="838.5" r="10.0" fill="#fff"/>
<circle cx="772.1" cy="838.5" r="10.0" fill="#fff"/>
<circle cx="776.4" cy="838.5" r="10.0" fill="#fff"/>
<circle cx="780.7" cy="838.5" r="10.0" fill="#fff"/>
<circle cx="784.9" cy="838.5" r="10.0" fill="#fff"/>
<circle cx="789.2" cy="838.5" r="10.0" fill="#fff"/>
<circle cx="793.5" cy="838.5" r="10.0" fill="#fff"/>
<circle cx="797.8" cy="838.5" r="10.0" fill="#fff"/>
<circle cx="802.1" cy="838.5" r="10.0" fill="#fff"/>
<circle cx="806.3" cy="838.5" r="10.0" fill="#fff"/>
<circle cx="810.6" cy="838.5" r="10.0" fill="#fff"/>
<circle cx="814.9" cy="838.5" r="10.0" fill="#fff"/>
<circle cx="819.2" cy="838.5" r="10.0" fill="#fff"/>
<circle cx="823.5" cy="838.5" r="10.0" fill="#fff"/>
<circle cx="827.7" cy="838.5" r="10.0" fill="#fff"/>
<circle cx="832.0" cy="838.5" r="10.0" fill="#fff"/>
<circle cx="836.3" cy="838.5" r="10.0" fill="#fff"/>
<circle cx="840.6" cy="838.5" r="10.0" fill="#fff"/>
<circle cx="844.9" cy="838.5" r="10.0" fill="#fff"/>
<circle cx="849.1" cy="838.5" r="10.0" fill="#fff"/>
<circle cx="853.4" cy="838.5" r="10.0" fill="#fff"/>
<circle cx="857.7" cy="838.5" r="10.0" fill="#fff"/>
<circle cx="862.0" cy="838.5" r="10.0" fill="#fff"/>
<circle cx="866.3" cy="838.5" r="10.0" fill="#fff"/>
<circle cx="870.5" cy="838.5" r="10.0" fill="#fff"/>
<circle cx="874.8" cy="838.5" r="10.0" fill="#fff"/>
<circle cx="879.1" cy="838.5" r="10.0" fill="#fff"/>
<circle cx="883.4" cy="838.5" r="10.0" fill="#fff"/>
<circle cx="887.7" cy="838.5" r="10.0" fill="#fff"/>
<circle cx="891.9" cy="838.5" r="10.0" fill="#fff"/>
<circle cx="896.2" cy="838.5" r="10.0" fill="#fff"/>
<circle cx="900.5" cy="838.5" r="10.0" fill="#fff"/>
<circle cx="904.8" cy="838.5" r="10.0" fill="#fff"/>
<circle cx="909.1" cy="838.5" r="10.0" fill="#fff"/>
<circle cx="913.3" cy="838.5" r="10.0" fill="#fff"/>
<circle cx="917.6" cy="838.5" r="10.0" fill="#fff"/>
<circle cx="921.9" cy="838.5" r="10.0" fill="#fff"/>
<circle cx="926.2" cy="838.5" r="10.0" fill="#fff"/>
<circle cx="930.5" cy="838.5" r="10.0" fill="#fff"/>
<circle cx="934.7" cy="838.5" r="10.0" fill="#fff"/>
<circle cx="939.0" cy="838.5" r="10.0" fill="#fff"/>
<circle cx="943.3" cy="838.5" r="10.0" fill="#fff"/>
<circle cx="947.6" cy="838.5" r="10.0" fill="#fff"/>
<circle cx="951.9" cy="838.5" r="10.0" fill="#fff"/>
<circle cx="956.1" cy="838.5" r="10.0" fill="#fff"/>
<circle cx="960.4" cy="838.5" r="10.0" fill="#fff"/>
<circle cx="964.7" cy="838.5" r="10.0" fill="#fff"/>
<circle cx="969.0" cy="838.5" r="10.0" fill="#fff"/>
<circle cx="973.3" cy="838.5" r="10.0" fill="#fff"/>
<circle cx="977.5" cy="838.5" r="10.0" fill="#fff"/>
<circle cx="981.8" cy="838.5" r="10.0" fill="#fff"/>
<circle cx="986.1" cy="838.5" r="10.0" fill="#fff"/>
<circle cx="990.4" cy="838.5" r="10.0" fill="#fff"/>
<circle cx="994.7" cy="838.5" r="10.0" fill="#fff"/>
<circle cx="998.9" cy="838.5" r="10.0" fill="#fff"/>
<circle cx="1003.2" cy="838.5" r="10.0" fill="#fff"/>
<circle cx="1007.5" cy="838.5" r="10.0" fill="#fff"/>
<circle cx="1011.8" cy="838.5" r="10.0" fill="#fff"/>
<circle cx="1016.1" cy="838.5" r="10.0" fill="#fff"/>
<circle cx="1020.3" cy="838.5" r="10.0" fill="#fff"/>
<circle cx="1024.6" cy="838.5" r="10.0" fill="#fff"/>
<circle cx="1028.9" cy="838.5" r="10.0" fill="#fff"/>
<circle cx="1033.2" cy="838.5" r="10.0" fill="#fff"/>
<circle cx="1037.5" cy="838.5" r="10.0" fill="#fff"/>
<circle cx="1041.7" cy="838.5" r="10.0" fill="#fff"/>
<circle cx="1046.0" cy="838.5" r="10.0" fill="#fff"/>
<circle cx="1050.3" cy="838.5" r="10.0" fill="#fff"/>
<circle cx="1054.6" cy="838.5" r="10.0" fill="#fff"/>
<circle cx="1058.8" cy="838.5" r="10.0" fill="#fff"/>
<circle cx="1063.1" cy="838.5" r="10.0" fill="#fff"/>
<circle cx="1067.4" cy="838.5" r="10.0" fill="#fff"/>
<circle cx="1071.7" cy="838.5" r="10.0" fill="#fff"/>
<circle cx="1076.0" cy="838.5" r="10.0" fill="#fff"/>
<circle cx="1080.2" cy="838.5" r="10.0" fill="#fff"/>
<circle cx="1084.5" cy="838.5" r="10.0" fill="#fff"/>
<circle cx="1088.8" cy="838.5" r="10.0" fill="#fff"/>
<circle cx="1093.1" cy="838.5" r="10.0" fill="#fff"/>
<circle cx="1097.4" cy="838.5" r="10.0" fill="#fff"/>
<circle cx="1101.7" cy="838.5" r="10.0" fill="#fff"/>
<circle cx="1105.9" cy="838.5" r="10.0" fill="#fff"/>
<circle cx="1110.2" cy="838.5" r="10.0" fill="#fff"/>
<circle cx="1114.5" cy="838.5" r="10.0" fill="#fff"/>
<circle cx="1114.5" cy="838.5" r="5.55"/>
<path d="M91.45 835.23A5.55 5.55 0 0 0 91.45 841.77M104.29 835.23A5.55 5.55 0 0 0 104.29 841.77M121.41 835.23A5.55 5.55 0 0 0 121.41 841.77M134.25 835.23A5.55 5.55 0 0 0 134.25 841.77M151.37 835.23A5.55 5.55 0 0 0 151.37 841.77M168.49 835.23A5.55 5.55 0 0 0 168.49 841.77M181.33 835.23A5.55 5.55 0 0 0 181.33 841.77M198.45 835.23A5.55 5.55 0 0 0 198.45 841.77M211.29 835.23A5.55 5.55 0 0 0 211.29 841.77M228.41 835.23A5.55 5.55 0 0 0 228.41 841.77M241.25 835.23A5.55 5.55 0 0 0 241.25 841.77M258.37 835.23A5.55 5.55 0 0 0 258.37 841.77M275.49 835.23A5.55 5.55 0 0 0 275.49 841.77M288.33 835.23A5.55 5.55 0 0 0 288.33 841.77M305.45 835.23A5.55 5.55 0 0 0 305.45 841.77M318.29 835.23A5.55 5.55 0 0 0 318.29 841.77M335.41 835.23A5.55 5.55 0 0 0 335.41 841.77M348.25 835.23A5.55 5.55 0 0 0 348.25 841.77M365.37 835.23A5.55 5.55 0 0 0 365.37 841.77M382.49 835.23A5.55 5.55 0 0 0 382.49 841.77M395.33 835.23A5.55 5.55 0 0 0 395.33 841.77M412.45 835.23A5.55 5.55 0 0 0 412.45 841.77M425.29 835.23A5.55 5.55 0 0 0 425.29 841.77M442.41 835.23A5.55 5.55 0 0 0 442.41 841.77M455.25 835.23A5.55 5.55 0 0 0 455.25 841.77M472.37 835.23A5.55 5.55 0 0 0 472.37 841.77M489.49 835.23A5.55 5.55 0 0 0 489.49 841.77M502.33 835.23A5.55 5.55 0 0 0 502.33 841.77M519.45 835.23A5.55 5.55 0 0 0 519.45 841.77M532.29 835.23A5.55 5.55 0 0 0 532.29 841.77M549.41 835.23A5.55 5.55 0 0 0 549.41 841.77M562.25 835.23A5.55 5.55 0 0 0 562.25 841.77M579.37 835.23A5.55 5.55 0 0 0 579.37 841.77M596.49 835.23A5.55 5.55 0 0 0 596.49 841.77M609.33 835.23A5.55 5.55 0 0 0 609.33 841.77M626.45 835.23A5.55 5.55 0 0 0 626.45 841.77M639.29 835.23A5.55 5.55 0 0 0 639.29 841.77M656.41 835.23A5.55 5.55 0 0 0 656.41 841.77M669.25 835.23A5.55 5.55 0 0 0 669.25 841.77M686.37 835.23A5.55 5.55 0 0 0 686.37 841.77M703.49 835.23A5.55 5.55 0 0 0 703.49 841.77M716.33 835.23A5.55 5.55 0 0 0 716.33 841.77M733.45 835.23A5.55 5.55 0 0 0 733.45 841.77M746.29 835.23A5.55 5.55 0 0 0 746.29 841.77M763.41 835.23A5.55 5.55 0 0 0 763.41 841.77M776.25 835.23A5.55 5.55 0 0 0 776.25 841.77M793.37 835.23A5.55 5.55 0 0 0 793.37 841.77M810.49 835.23A5.55 5.55 0 0 0 810.49 841.77M823.33 835.23A5.55 5.55 0 0 0 823.33 841.77M840.45 835.23A5.55 5.55 0 0 0 840.45 841.77M853.29 835.23A5.55 5.55 0 0 0 853.29 841.77M870.41 835.23A5.55 5.55 0 0 0 870.41 841.77M883.25 835.23A5.55 5.55 0 0 0 883.25 841.77M900.37 835.23A5.55 5.55 0 0 0 900.37 841.77M917.49 835.23A5.55 5.55 0 0 0 917.49 841.77M930.33 835.23A5.55 5.55 0 0 0 930.33 841.77M947.45 835.23A5.55 5.55 0 0 0 947.45 841.77M960.29 835.23A5.55 5.55 0 0 0 960.29 841.77M977.41 835.23A5.55 5.55 0 0 0 977.41 841.77M990.25 835.23A5.55 5.55 0 0 0 990.25 841.77M1007.37 835.23A5.55 5.55 0 0 0 1007.37 841.77M1024.49 835.23A5.55 5.55 0 0 0 1024.49 841.77M1037.33 835.23A5.55 5.55 0 0 0 1037.33 841.77M1054.45 835.23A5.55 5.55 0 0 0 1054.45 841.77M1067.29 835.23A5.55 5.55 0 0 0 1067.29 841.77M1084.41 835.23A5.55 5.55 0 0 0 1084.41 841.77M1097.25 835.23A5.55 5.55 0 0 0 1097.25 841.77" fill="none" stroke="#0060ad" stroke-width="0.8" stroke-opacity="0.5"/>
</g>
<g fill="#ff7f0e">
<path d="M95.8 838.5 L100.1 838.5 L104.4 838.5 L108.7 838.5 L113.0 838.5 L117.2 838.5 L121.5 838.5 L125.8 838.5 L130.1 838.5 L134.4 838.5 L138.7 838.5 L142.9 838.5 L147.2 838.5 L151.5 838.5 L155.8 838.5 L160.1 838.5 L164.3 838.5 L168.6 838.5 L172.9 838.5 L177.2 838.5 L181.4 838.5 L185.7 838.5 L190.0 838.5 L194.3 838.5 L198.6 838.5 L202.8 838.5 L207.1 838.5 L211.4 838.5 L215.7 838.5 L220.0 792.3 L224.2 458.2 L228.5 470.3 L232.8 472.8 L237.1 480.3 L241.4 431.5 L245.7 466.5 L249.9 466.9 L254.2 511.2 L258.5 477.0 L262.8 475.3 L267.1 482.0 L271.3 544.0 L275.6 493.7 L279.9 462.4 L284.2 475.3 L288.5 449.4 L292.7 478.3 L297.0 446.0 L301.3 476.4 L305.6 444.4 L309.9 463.1 L314.1 443.0 L318.4 476.9 L322.7 449.4 L327.0 480.0 L331.2 485.6 L335.5 471.4 L339.8 458.6 L344.1 444.4 L348.4 419.8 L352.6 448.2 L356.9 425.1 L361.2 437.3 L365.5 453.0 L369.8 478.6 L374.0 471.4 L378.3 422.3 L382.6 450.7 L386.9 400.6 L391.2 450.7 L395.5 402.2 L399.7 464.4 L404.0 451.0 L408.3 456.0 L412.6 451.0 L416.9 453.5 L421.1 394.5 L425.4 433.5 L429.7 449.3 L434.0 436.3 L438.2 493.6 L442.5 521.5 L446.8 608.5 L451.1 566.7 L455.4 484.7 L459.6 522.8 L463.9 571.4 L468.2 516.5 L472.5 412.6 L476.8 434.6 L481.1 503.6 L485.3 578.0 L489.6 542.5 L493.9 571.0 L498.2 581.4 L502.5 800.3 L506.7 533.7 L511.0 441.8 L515.3 568.4 L519.6 528.4 L523.9 427.6 L528.1 409.7 L532.4 397.2 L536.7 556.4 L541.0 500.8 L545.2 408.7 L549.5 492.4 L553.8 570.4 L558.1 583.4 L562.4 411.2 L566.6 452.7 L570.9 463.2 L575.2 526.2 L579.5 576.4 L583.8 725.0 L588.1 838.5 L592.3 838.5 L596.6 744.3 L600.9 467.4 L605.2 443.5 L609.5 466.4 L613.7 445.5 L618.0 415.6 L622.3 455.5 L626.6 441.5 L630.9 486.4 L635.1 598.5 L639.4 615.5 L643.7 443.5 L648.0 443.5 L652.2 517.3 L656.5 438.5 L660.8 460.5 L665.1 405.4 L669.4 437.6 L673.7 560.4 L677.9 641.4 L682.2 747.3 L686.5 838.5 L690.8 778.2 L695.1 479.7 L699.3 479.7 L703.6 525.4 L707.9 596.8 L712.2 408.4 L716.5 453.5 L720.7 422.6 L725.0 448.5 L729.3 534.5 L733.6 496.4 L737.9 514.5 L742.1 583.4 L746.4 556.4 L750.7 611.5 L755.0 477.4 L759.3 397.4 L763.5 419.4 L767.8 433.2 L772.1 602.3 L776.4 838.5 L780.7 556.4 L784.9 710.5 L789.2 711.7 L793.5 443.6 L797.8 475.3 L802.1 490.0 L806.3 484.5 L810.6 424.4 L814.9 455.3 L819.2 429.4 L823.5 452.3 L827.7 526.4 L832.0 811.1 L836.3 838.5 L840.6 586.4 L844.9 447.4 L849.1 471.5 L853.4 595.1 L857.7 518.2 L862.0 354.5 L866.3 438.2 L870.5 507.7 L874.8 507.3 L879.1 647.8 L883.4 659.5 L887.7 838.5 L891.9 808.3 L896.2 516.4 L900.5 410.2 L904.8 529.4 L909.1 517.4 L913.3 421.9 L917.6 428.6 L921.9 436.4 L926.2 487.2 L930.5 569.4 L934.7 616.5 L939.0 838.5 L943.3 838.5 L947.6 530.2 L951.9 421.5 L956.1 473.3 L960.4 554.5 L964.7 486.3 L969.0 352.2 L973.3 433.6 L977.5 440.3 L981.8 664.5 L986.1 622.4 L990.4 744.3 L994.7 838.5 L998.9 838.5 L1003.2 518.2 L1007.5 455.3 L1011.8 470.3 L1016.1 531.4 L1020.3 433.2 L1024.6 432.7 L1028.9 438.6 L1033.2 450.5 L1037.5 521.4 L1041.7 569.2 L1046.0 838.5 L1050.3 838.5 L1054.6 642.4 L1058.8 467.4 L1063.1 480.4 L1067.4 591.3 L1071.7 490.5 L1076.0 359.5 L1080.2 453.5 L1084.5 511.5 L1088.8 680.4 L1093.1 838.5 L1097.4 838.5 L1101.7 838.5 L1105.9 838.5 L1110.2 838.5 L1114.5 838.5" fill="none" stroke="#ff7f0e" stroke-width="2" stroke-linejoin="round"/>
<circle cx="95.8" cy="838.5" r="10.0" fill="#fff"/>
<circle cx="100.1" cy="838.5" r="10.0" fill="#fff"/>
<circle cx="104.4" cy="838.5" r="10.0" fill="#fff"/>
<circle cx="108.7" cy="838.5" r="10.0" fill="#fff"/>
<circle cx="113.0" cy="838.5" r="10.0" fill="#fff"/>
<circle cx="117.2" cy="838.5" r="10.0" fill="#fff"/>
<circle cx="121.5" cy="838.5" r="10.0" fill="#fff"/>
<circle cx="125.8" cy="838.5" r="10.0" fill="#fff"/>
<circle cx="130.1" cy="838.5" r="10.0" fill="#fff"/>
<circle cx="134.4" cy="838.5" r="10.0" fill="#fff"/>
<circle cx="138.7" cy="838.5" r="10.0" fill="#fff"/>
<circle cx="142.9" cy="838.5" r="10.0" fill="#fff"/>
<circle cx="147.2" cy="838.5" r="10.0" fill="#fff"/>
<circle cx="151.5" cy="838.5" r="10.0" fill="#fff"/>
<circle cx="155.8" cy="838.5" r="10.0" fill="#fff"/>
<circle cx="160.1" cy="838.5" r="10.0" fill="#fff"/>
<circle cx="164.3" cy="838.5" r="10.0" fill="#fff"/>
<circle cx="168.6" cy="838.5" r="10.0" fill="#fff"/>
<circle cx="172.9" cy="838.5" r="10.0" fill="#fff"/>
<circle cx="177.2" cy="838.5" r="10.0" fill="#fff"/>
<circle cx="181.4" cy="838.5" r="10.0" fill="#fff"/>
<circle cx="185.7" cy="838.5" r="10.0" fill="#fff"/>
<circle cx="190.0" cy="838.5" r="10.0" fill="#fff"/>
<circle cx="194.3" cy="838.5" r="10.0" fill="#fff"/>
<circle cx="198.6" cy="838.5" r="10.0" fill="#fff"/>
<circle cx="202.8" cy="838.5" r="10.0" fill="#fff"/>
<circle cx="207.1" cy="838.5" r="10.0" fill="#fff"/>
<circle cx="211.4" cy="838.5" r="10.0" fill="#fff"/>
<circle cx="215.7" cy="838.5" r="10.0" fill="#fff"/>
<circle cx="215.7" cy="838.5" r="5.55"/>
<circle cx="220.0" cy="792.3" r="10.0" fill="#fff"/>
<circle cx="220.0" cy="792.3" r="5.55"/>
<circle cx="224.2" cy="458.2" r="10.0" fill="#fff"/>
<circle cx="224.2" cy="458.2" r="5.55"/>
<circle cx="228.5" cy="470.3" r="10.0" fill="#fff"/>
<circle cx="228.5" cy="470.3" r="5.55"/>
<circle cx="232.8" cy="472.8" r="10.0" fill="#fff"/>
<circle cx="232.8" cy="472.8" r="5.55"/>
<circle cx="237.1" cy="480.3" r="10.0" fill="#fff"/>
<circle cx="237.1" cy="480.3" r="5.55"/>
<circle cx="241.4" cy="431.5" r="10.0" fill="#fff"/>
<circle cx="241.4" cy="431.5" r="5.55"/>
<circle cx="245.7" cy="466.5" r="10.0" fill="#fff"/>
<circle cx="249.9" cy="466.9" r="10.0" fill="#fff"/>
<circle cx="249.9" cy="466.9" r="5.55"/>
<circle cx="254.2" cy="511.2" r="10.0" fill="#fff"/>
<circle cx="254.2" cy="511.2" r="5.55"/>
<circle cx="258.5" cy="477.0" r="10.0" fill="#fff"/>
<circle cx="258.5" cy="477.0" r="5.55"/>
<circle cx="262.8" cy="475.3" r="10.0" fill="#fff"/>
<circle cx="262.8" cy="475.3" r="5.55"/>
<circle cx="267.1" cy="482.0" r="10.0" fill="#fff"/>
<circle cx="267.1" cy="482.0" r="5.55"/>
<circle cx="271.3" cy="544.0" r="10.0" fill="#fff"/>
<circle cx="271.3" cy="544.0" r="5.55"/>
<circle cx="275.6" cy="493.7" r="10.0" fill="#fff"/>
<circle cx="275.6" cy="493.7" r="5.55"/>
<circle cx="279.9" cy="462.4" r="10.0" fill="#fff"/>
<circle cx="279.9" cy="462.4" r="5.55"/>
<circle cx="284.2" cy="475.3" r="10.0" fill="#fff"/>
<circle cx="284.2" cy="475.3" r="5.55"/>
<circle cx="288.5" cy="449.4" r="10.0" fill="#fff"/>
<circle cx="288.5" cy="449.4" r="5.55"/>
<circle cx="292.7" cy="478.3" r="10.0" fill="#fff"/>
<circle cx="292.7" cy="478.3" r="5.55"/>
<circle cx="297.0" cy="446.0" r="10.0" fill="#fff"/>
<circle cx="297.0" cy="446.0" r="5.55"/>
<circle cx="301.3" cy="476.4" r="10.0" fill="#fff"/>
<circle cx="301.3" cy="476.4" r="5.55"/>
<circle cx="305.6" cy="444.4" r="10.0" fill="#fff"/>
<circle cx="305.6" cy="444.4" r="5.55"/>
<circle cx="309.9" cy="463.1" r="10.0" fill="#fff"/>
<circle cx="309.9" cy="463.1" r="5.55"/>
<circle cx="314.1" cy="443.0" r="10.0" fill="#fff"/>
<circle cx="314.1" cy="443.0" r="5.55"/>
<circle cx="318.4" cy="476.9" r="10.0" fill="#fff"/>
<circle cx="318.4" cy="476.9" r="5.55"/>
<circle cx="322.7" cy="449.4" r="10.0" fill="#fff"/>
<circle cx="322.7" cy="449.4" r="5.55"/>
<circle cx="327.0" cy="480.0" r="10.0" fill="#fff"/>
<circle cx="327.0" cy="480.0" r="5.55"/>
<circle cx="331.2" cy="485.6" r="10.0" fill="#fff"/>
<circle cx="331.2" cy="485.6" r="5.55"/>
<circle cx="335.5" cy="471.4" r="10.0" fill="#fff"/>
<circle cx="335.5" cy="471.4" r="5.55"/>
<circle cx="339.8" cy="458.6" r="10.0" fill="#fff"/>
<circle cx="339.8" cy="458.6" r="5.55"/>
<circle cx="344.1" cy="444.4" r="10.0" fill="#fff"/>
<circle cx="344.1" cy="444.4" r="5.55"/>
<circle cx="348.4" cy="419.8" r="10.0" fill="#fff"/>
<circle cx="348.4" cy="419.8" r="5.55"/>
<circle cx="352.6" cy="448.2" r="10.0" fill="#fff"/>
<circle cx="352.6" cy="448.2" r="5.55"/>
<circle cx="356.9" cy="425.1" r="10.0" fill="#fff"/>
<circle cx="356.9" cy="425.1" r="5.55"/>
<circle cx="361.2" cy="437.3" r="10.0" fill="#fff"/>
<circle cx="361.2" cy="437.3" r="5.55"/>
<circle cx="365.5" cy="453.0" r="10.0" fill="#fff"/>
<circle cx="365.5" cy="453.0" r="5.55"/>
<circle cx="369.8" cy="478.6" r="10.0" fill="#fff"/>
<circle cx="369.8" cy="478.6" r="5.55"/>
<circle cx="374.0" cy="471.4" r="10.0" fill="#fff"/>
<circle cx="374.0" cy="471.4" r="5.55"/>
<circle cx="378.3" cy="422.3" r="10.0" fill="#fff"/>
<circle cx="378.3" cy="422.3" r="5.55"/>
<circle cx="382.6" cy="450.7" r="10.0" fill="#fff"/>
<circle cx="382.6" cy="450.7" r="5.55"/>
<circle cx="386.9" cy="400.6" r="10.0" fill="#fff"/>
<circle cx="386.9" cy="400.6" r="5.55"/>
<circle cx="391.2" cy="450.7" r="10.0" fill="#fff"/>
<circle cx="391.2" cy="450.7" r="5.55"/>
<circle cx="395.5" cy="402.2" r="10.0" fill="#fff"/>
<circle cx="395.5" cy="402.2" r="5.55"/>
<circle cx="399.7" cy="464.4" r="10.0" fill="#fff"/>
<circle cx="399.7" cy="464.4" r="5.55"/>
<circle cx="404.0" cy="451.0" r="10.0" fill="#fff"/>
<circle cx="404.0" cy="451.0" r="5.55"/>
<circle cx="408.3" cy="456.0" r="10.0" fill="#fff"/>
<circle cx="408.3" cy="456.0" r="5.55"/>
<circle cx="412.6" cy="451.0" r="10.0" fill="#fff"/>
<circle cx="412.6" cy="451.0" r="5.55"/>
<circle cx="416.9" cy="453.5" r="10.0" fill="#fff"/>
<circle cx="416.9" cy="453.5" r="5.55"/>
<circle cx="421.1" cy="394.5" r="10.0" fill="#fff"/>
<circle cx="421.1" cy="394.5" r="5.55"/>
<circle cx="425.4" cy="433.5" r="10.0" fill="#fff"/>
<circle cx="425.4" cy="433.5" r="5.55"/>
<circle cx="429.7" cy="449.3" r="10.0" fill="#fff"/>
<circle cx="429.7" cy="449.3" r="5.55"/>
<circle cx="434.0" cy="436.3" r="10.0" fill="#fff"/>
<circle cx="434.0" cy="436.3" r="5.55"/>
<circle cx="438.2" cy="493.6" r="10.0" fill="#fff"/>
<circle cx="438.2" cy="493.6" r="5.55"/>
<circle cx="442.5" cy="521.5" r="10.0" fill="#fff"/>
<circle cx="442.5" cy="521.5" r="5.55"/>
<circle cx="446.8" cy="608.5" r="10.0" fill="#fff"/>
<circle cx="446.8" cy="608.5" r="5.55"/>
<circle cx="451.1" cy="566.7" r="10.0" fill="#fff"/>
<circle cx="451.1" cy="566.7" r="5.55"/>
<circle cx="455.4" cy="484.7" r="10.0" fill="#fff"/>
<circle cx="455.4" cy="484.7" r="5.55"/>
<circle cx="459.6" cy="522.8" r="10.0" fill="#fff"/>
<circle cx="459.6" cy="522.8" r="5.55"/>
<circle cx="463.9" cy="571.4" r="10.0" fill="#fff"/>
<circle cx="463.9" cy="571.4" r="5.55"/>
<circle cx="468.2" cy="516.5" r="10.0" fill="#fff"/>
<circle cx="468.2" cy="516.5" r="5.55"/>
<circle cx="472.5" cy="412.6" r="10.0" fill="#fff"/>
<circle cx="472.5" cy="412.6" r="5.55"/>
<circle cx="476.8" cy="434.6" r="10.0" fill="#fff"/>
<circle cx="476.8" cy="434.6" r="5.55"/>
<circle cx="481.1" cy="503.6" r="10.0" fill="#fff"/>
<circle cx="481.1" cy="503.6" r="5.55"/>
<circle cx="485.3" cy="578.0" r="10.0" fill="#fff"/>
<circle cx="485.3" cy="578.0" r="5.55"/>
<circle cx="489.6" cy="542.5" r="10.0" fill="#fff"/>
<circle cx="489.6" cy="542.5" r="5.55"/>
<circle cx="493.9" cy="571.0" r="10.0" fill="#fff"/>
<circle cx="493.9" cy="571.0" r="5.55"/>
<circle cx="498.2" cy="581.4" r="10.0" fill="#fff"/>
<circle cx="498.2" cy="581.4" r="5.55"/>
<circle cx="502.5" cy="800.3" r="10.0" fill="#fff"/>
<circle cx="502.5" cy="800.3" r="5.55"/>
<circle cx="506.7" cy="533.7" r="10.0" fill="#fff"/>
<circle cx="506.7" cy="533.7" r="5.55"/>
<circle cx="511.0" cy="441.8" r="10.0" fill="#fff"/>
<circle cx="511.0" cy="441.8" r="5.55"/>
<circle cx="515.3" cy="568.4" r="10.0" fill="#fff"/>
<circle cx="515.3" cy="568.4" r="5.55"/>
<circle cx="519.6" cy="528.4" r="10.0" fill="#fff"/>
<circle cx="519.6" cy="528.4" r="5.55"/>
<circle cx="523.9" cy="427.6" r="10.0" fill="#fff"/>
<circle cx="523.9" cy="427.6" r="5.55"/>
<circle cx="528.1" cy="409.7" r="10.0" fill="#fff"/>
<circle cx="528.1" cy="409.7" r="5.55"/>
<circle cx="532.4" cy="397.2" r="10.0" fill="#fff"/>
<circle cx="532.4" cy="397.2" r="5.55"/>
<circle cx="536.7" cy="556.4" r="10.0" fill="#fff"/>
<circle cx="536.7" cy="556.4" r="5.55"/>
<circle cx="541.0" cy="500.8" r="10.0" fill="#fff"/>
<circle cx="541.0" cy="500.8" r="5.55"/>
<circle cx="545.2" cy="408.7" r="10.0" fill="#fff"/>
<circle cx="545.2" cy="408.7" r="5.55"/>
<circle cx="549.5" cy="492.4" r="10.0" fill="#fff"/>
<circle cx="549.5" cy="492.4" r="5.55"/>
<circle cx="553.8" cy="570.4" r="10.0" fill="#fff"/>
<circle cx="553.8" cy="570.4" r="5.55"/>
<circle cx="558.1" cy="583.4" r="10.0" fill="#fff"/>
<circle cx="558.1" cy="583.4" r="5.55"/>
<circle cx="562.4" cy="411.2" r="10.0" fill="#fff"/>
<circle cx="562.4" cy="411.2" r="5.55"/>
<circle cx="566.6" cy="452.7" r="10.0" fill="#fff"/>
<circle cx="566.6" cy="452.7" r="5.55"/>
<circle cx="570.9" cy="463.2" r="10.0" fill="#fff"/>
<circle cx="570.9" cy="463.2" r="5.55"/>
<circle cx="575.2" cy="526.2" r="10.0" fill="#fff"/>
<circle cx="575.2" cy="526.2" r="5.55"/>
<circle cx="579.5" cy="576.4" r="10.0" fill="#fff"/>
<circle cx="579.5" cy="576.4" r="5.55"/>
<circle cx="583.8" cy="725.0" r="10.0" fill="#fff"/>
<circle cx="583.8" cy="725.0" r="5.55"/>
<circle cx="588.1" cy="838.5" r="10.0" fill="#fff"/>
<circle cx="592.3" cy="838.5" r="10.0" fill="#fff"/>
<circle cx="592.3" cy="838.5" r="5.55"/>
<circle cx="596.6" cy="744.3" r="10.0" fill="#fff"/>
<circle cx="596.6" cy="744.3" r="5.55"/>
<circle cx="600.9" cy="467.4" r="10.0" fill="#fff"/>
<circle cx="600.9" cy="467.4" r="5.55"/>
<circle cx="605.2" cy="443.5" r="10.0" fill="#fff"/>
<circle cx="605.2" cy="443.5" r="5.55"/>
<circle cx="609.5" cy="466.4" r="10.0" fill="#fff"/>
<circle cx="609.5" cy="466.4" r="5.55"/>
<circle cx="613.7" cy="445.5" r="10.0" fill="#fff"/>
<circle cx="613.7" cy="445.5" r="5.55"/>
<circle cx="618.0" cy="415.6" r="10.0" fill="#fff"/>
<circle cx="618.0" cy="415.6" r="5.55"/>
<circle cx="622.3" cy="455.5" r="10.0" fill="#fff"/>
<circle cx="622.3" cy="455.5" r="5.55"/>
<circle cx="626.6" cy="441.5" r="10.0" fill="#fff"/>
<circle cx="626.6" cy="441.5" r="5.55"/>
<circle cx="630.9" cy="486.4" r="10.0" fill="#fff"/>
<circle cx="630.9" cy="486.4" r="5.55"/>
<circle cx="635.1" cy="598.5" r="10.0" fill="#fff"/>
<circle cx="635.1" cy="598.5" r="5.55"/>
<circle cx="639.4" cy="615.5" r="10.0" fill="#fff"/>
<circle cx="639.4" cy="615.5" r="5.55"/>
<circle cx="643.7" cy="443.5" r="10.0" fill="#fff"/>
<circle cx="648.0" cy="443.5" r="10.0" fill="#fff"/>
<circle cx="648.0" cy="443.5" r="5.55"/>
<circle cx="652.2" cy="517.3" r="10.0" fill="#fff"/>
<circle cx="652.2" cy="517.3" r="5.55"/>
<circle cx="656.5" cy="438.5" r="10.0" fill="#fff"/>
<circle cx="656.5" cy="438.5" r="5.55"/>
<circle cx="660.8" cy="460.5" r="10.0" fill="#fff"/>
<circle cx="660.8" cy="460.5" r="5.55"/>
<circle cx="665.1" cy="405.4" r="10.0" fill="#fff"/>
<circle cx="665.1" cy="405.4" r="5.55"/>
<circle cx="669.4" cy="437.6" r="10.0" fill="#fff"/>
<circle cx="669.4" cy="437.6" r="5.55"/>
<circle cx="673.7" cy="560.4" r="10.0" fill="#fff"/>
<circle cx="673.7" cy="560.4" r="5.55"/>
<circle cx="677.9" cy="641.4" r="10.0" fill="#fff"/>
<circle cx="677.9" cy="641.4" r="5.55"/>
<circle cx="682.2" cy="747.3" r="10.0" fill="#fff"/>
<circle cx="682.2" cy="747.3" r="5.55"/>
<circle cx="686.5" cy="838.5" r="10.0" fill="#fff"/>
<circle cx="686.5" cy="838.5" r="5.55"/>
<circle cx="690.8" cy="778.2" r="10.0" fill="#fff"/>
<circle cx="690.8" cy="778.2" r="5.55"/>
<circle cx="695.1" cy="479.7" r="10.0" fill="#fff"/>
<circle cx="699.3" cy="479.7" r="10.0" fill="#fff"/>
<circle cx="699.3" cy="479.7" r="5.55"/>
<circle cx="703.6" cy="525.4" r="10.0" fill="#fff"/>
<circle cx="703.6" cy="525.4" r="5.55"/>
<circle cx="707.9" cy="596.8" r="10.0" fill="#fff"/>
<circle cx="707.9" cy="596.8" r="5.55"/>
<circle cx="712.2" cy="408.4" r="10.0" fill="#fff"/>
<circle cx="712.2" cy="408.4" r="5.55"/>
<circle cx="716.5" cy="453.5" r="10.0" fill="#fff"/>
<circle cx="716.5" cy="453.5" r="5.55"/>
<circle cx="720.7" cy="422.6" r="10.0" fill="#fff"/>
<circle cx="720.7" cy="422.6" r="5.55"/>
<circle cx="725.0" cy="448.5" r="10.0" fill="#fff"/>
<circle cx="725.0" cy="448.5" r="5.55"/>
<circle cx="729.3" cy="534.5" r="10.0" fill="#fff"/>
<circle cx="729.3" cy="534.5" r="5.55"/>
<circle cx="733.6" cy="496.4" r="10.0" fill="#fff"/>
<circle cx="733.6" cy="496.4" r="5.55"/>
<circle cx="737.9" cy="514.5" r="10.0" fill="#fff"/>
<circle cx="737.9" cy="514.5" r="5.55"/>
<circle cx="742.1" cy="583.4" r="10.0" fill="#fff"/>
<circle cx="742.1" cy="583.4" r="5.55"/>
<circle cx="746.4" cy="556.4" r="10.0" fill="#fff"/>
<circle cx="746.4" cy="556.4" r="5.55"/>
<circle cx="750.7" cy="611.5" r="10.0" fill="#fff"/>
<circle cx="750.7" cy="611.5" r="5.55"/>
<circle cx="755.0" cy="477.4" r="10.0" fill="#fff"/>
<circle cx="755.0" cy="477.4" r="5.55"/>
<circle cx="759.3" cy="397.4" r="10.0" fill="#fff"/>
<circle cx="759.3" cy="397.4" r="5.55"/>
<circle cx="763.5" cy="419.4" r="10.0" fill="#fff"/>
<circle cx="763.5" cy="419.4" r="5.55"/>
<circle cx="767.8" cy="433.2" r="10.0" fill="#fff"/>
<circle cx="767.8" cy="433.2" r="5.55"/>
<circle cx="772.1" cy="602.3" r="10.0" fill="#fff"/>
<circle cx="772.1" cy="602.3" r="5.55"/>
<circle cx="776.4" cy="838.5" r="10.0" fill="#fff"/>
<circle cx="776.4" cy="838.5" r="5.55"/>
<circle cx="780.7" cy="556.4" r="10.0" fill="#fff"/>
<circle cx="780.7" cy="556.4" r="5.55"/>
<circle cx="784.9" cy="710.5" r="10.0" fill="#fff"/>
<circle cx="789.2" cy="711.7" r="10.0" fill="#fff"/>
<circle cx="789.2" cy="711.7" r="5.55"/>
<circle cx="793.5" cy="443.6" r="10.0" fill="#fff"/>
<circle cx="793.5" cy="443.6" r="5.55"/>
<circle cx="797.8" cy="475.3" r="10.0" fill="#fff"/>
<circle cx="797.8" cy="475.3" r="5.55"/>
<circle cx="802.1" cy="490.0" r="10.0" fill="#fff"/>
<circle cx="802.1" cy="490.0" r="5.55"/>
<circle cx="806.3" cy="484.5" r="10.0" fill="#fff"/>
<circle cx="806.3" cy="484.5" r="5.55"/>
<circle cx="810.6" cy="424.4" r="10.0" fill="#fff"/>
<circle cx="810.6" cy="424.4" r="5.55"/>
<circle cx="814.9" cy="455.3" r="10.0" fill="#fff"/>
<circle cx="814.9" cy="455.3" r="5.55"/>
<circle cx="819.2" cy="429.4" r="10.0" fill="#fff"/>
<circle cx="819.2" cy="429.4" r="5.55"/>
<circle cx="823.5" cy="452.3" r="10.0" fill="#fff"/>
<circle cx="823.5" cy="452.3" r="5.55"/>
<circle cx="827.7" cy="526.4" r="10.0" fill="#fff"/>
<circle cx="827.7" cy="526.4" r="5.55"/>
<circle cx="832.0" cy="811.1" r="10.0" fill="#fff"/>
<circle cx="832.0" cy="811.1" r="5.55"/>
<circle cx="836.3" cy="838.5" r="10.0" fill="#fff"/>
<circle cx="836.3" cy="838.5" r="5.55"/>
<circle cx="840.6" cy="586.4" r="10.0" fill="#fff"/>
<circle cx="840.6" cy="586.4" r="5.55"/>
<circle cx="844.9" cy="447.4" r="10.0" fill="#fff"/>
<circle cx="844.9" cy="447.4" r="5.55"/>
<circle cx="849.1" cy="471.5" r="10.0" fill="#fff"/>
<circle cx="849.1" cy="471.5" r="5.55"/>
<circle cx="853.4" cy="595.1" r="10.0" fill="#fff"/>
<circle cx="853.4" cy="595.1" r="5.55"/>
<circle cx="857.7" cy="518.2" r="10.0" fill="#fff"/>
<circle cx="857.7" cy="518.2" r="5.55"/>
<circle cx="862.0" cy="354.5" r="10.0" fill="#fff"/>
<circle cx="862.0" cy="354.5" r="5.55"/>
<circle cx="866.3" cy="438.2" r="10.0" fill="#fff"/>
<circle cx="866.3" cy="438.2" r="5.55"/>
<circle cx="870.5" cy="507.7" r="10.0" fill="#fff"/>
<circle cx="874.8" cy="507.3" r="10.0" fill="#fff"/>
<circle cx="874.8" cy="507.3" r="5.55"/>
<circle cx="879.1" cy="647.8" r="10.0" fill="#fff"/>
<circle cx="879.1" cy="647.8" r="5.55"/>
<circle cx="883.4" cy="659.5" r="10.0" fill="#fff"/>
<circle cx="883.4" cy="659.5" r="5.55"/>
<circle cx="887.7" cy="838.5" r="10.0" fill="#fff"/>
<circle cx="887.7" cy="838.5" r="5.55"/>
<circle cx="891.9" cy="808.3" r="10.0" fill="#fff"/>
<circle cx="891.9" cy="808.3" r="5.55"/>
<circle cx="896.2" cy="516.4" r="10.0" fill="#fff"/>
<circle cx="896.2" cy="516.4" r="5.55"/>
<circle cx="900.5" cy="410.2" r="10.0" fill="#fff"/>
<circle cx="900.5" cy="410.2" r="5.55"/>
<circle cx="904.8" cy="529.4" r="10.0" fill="#fff"/>
<circle cx="904.8" cy="529.4" r="5.55"/>
<circle cx="909.1" cy="517.4" r="10.0" fill="#fff"/>
<circle cx="909.1" cy="517.4" r="5.55"/>
<circle cx="913.3" cy="421.9" r="10.0" fill="#fff"/>
<circle cx="913.3" cy="421.9" r="5.55"/>
<circle cx="917.6" cy="428.6" r="10.0" fill="#fff"/>
<circle cx="917.6" cy="428.6" r="5.55"/>
<circle cx="921.9" cy="436.4" r="10.0" fill="#fff"/>
<circle cx="921.9" cy="436.4" r="5.55"/>
<circle cx="926.2" cy="487.2" r="10.0" fill="#fff"/>
<circle cx="926.2" cy="487.2" r="5.55"/>
<circle cx="930.5" cy="569.4" r="10.0" fill="#fff"/>
<circle cx="930.5" cy="569.4" r="5.55"/>
<circle cx="934.7" cy="616.5" r="10.0" fill="#fff"/>
<circle cx="934.7" cy="616.5" r="5.55"/>
<circle cx="939.0" cy="838.5" r="10.0" fill="#fff"/>
<circle cx="943.3" cy="838.5" r="10.0" fill="#fff"/>
<circle cx="943.3" cy="838.5" r="5.55"/>
<circle cx="947.6" cy="530.2" r="10.0" fill="#fff"/>
<circle cx="947.6" cy="530.2" r="5.55"/>
<circle cx="951.9" cy="421.5" r="10.0" fill="#fff"/>
<circle cx="951.9" cy="421.5" r="5.55"/>
<circle cx="956.1" cy="473.3" r="10.0" fill="#fff"/>
<circle cx="956.1" cy="473.3" r="5.55"/>
<circle cx="960.4" cy="554.5" r="10.0" fill="#fff"/>
<circle cx="960.4" cy="554.5" r="5.55"/>
<circle cx="964.7" cy="486.3" r="10.0" fill="#fff"/>
<circle cx="964.7" cy="486.3" r="5.55"/>
<circle cx="969.0" cy="352.2" r="10.0" fill="#fff"/>
<circle cx="969.0" cy="352.2" r="5.55"/>
<circle cx="973.3" cy="433.6" r="10.0" fill="#fff"/>
<circle cx="973.3" cy="433.6" r="5.55"/>
<circle cx="977.5" cy="440.3" r="10.0" fill="#fff"/>
<circle cx="977.5" cy="440.3" r="5.55"/>
<circle cx="981.8" cy="664.5" r="10.0" fill="#fff"/>
<circle cx="981.8" cy="664.5" r="5.55"/>
<circle cx="986.1" cy="622.4" r="10.0" fill="#fff"/>
<circle cx="986.1" cy="622.4" r="5.55"/>
<circle cx="990.4" cy="744.3" r="10.0" fill="#fff"/>
<circle cx="990.4" cy="744.3" r="5.55"/>
<circle cx="994.7" cy="838.5" r="10.0" fill="#fff"/>
<circle cx="998.9" cy="838.5" r="10.0" fill="#fff"/>
<circle cx="998.9" cy="838.5" r="5.55"/>
<circle cx="1003.2" cy="518.2" r="10.0" fill="#fff"/>
<circle cx="1003.2" cy="518.2" r="5.55"/>
<circle cx="1007.5" cy="455.3" r="10.0" fill="#fff"/>
<circle cx="1007.5" cy="455.3" r="5.55"/>
<circle cx="1011.8" cy="470.3" r="10.0" fill="#fff"/>
<circle cx="1011.8" cy="470.3" r="5.55"/>
<circle cx="1016.1" cy="531.4" r="10.0" fill="#fff"/>
<circle cx="1016.1" cy="531.4" r="5.55"/>
<circle cx="1020.3" cy="433.2" r="10.0" fill="#fff"/>
<circle cx="1024.6" cy="432.7" r="10.0" fill="#fff"/>
<circle cx="1024.6" cy="432.7" r="5.55"/>
<circle cx="1028.9" cy="438.6" r="10.0" fill="#fff"/>
<circle cx="1028.9" cy="438.6" r="5.55"/>
<circle cx="1033.2" cy="450.5" r="10.0" fill="#fff"/>
<circle cx="1033.2" cy="450.5" r="5.55"/>
<circle cx="1037.5" cy="521.4" r="10.0" fill="#fff"/>
<circle cx="1037.5" cy="521.4" r="5.55"/>
<circle cx="1041.7" cy="569.2" r="10.0" fill="#fff"/>
<circle cx="1041.7" cy="569.2" r="5.55"/>
<circle cx="1046.0" cy="838.5" r="10.0" fill="#fff"/>
<circle cx="1050.3" cy="838.5" r="10.0" fill="#fff"/>
<circle cx="1050.3" cy="838.5" r="5.55"/>
<circle cx="1054.6" cy="642.4" r="10.0" fill="#fff"/>
<circle cx="1054.6" cy="642.4" r="5.55"/>
<circle cx="1058.8" cy="467.4" r="10.0" fill="#fff"/>
<circle cx="1058.8" cy="467.4" r="5.55"/>
<circle cx="1063.1" cy="480.4" r="10.0" fill="#fff"/>
<circle cx="1063.1" cy="480.4" r="5.55"/>
<circle cx="1067.4" cy="591.3" r="10.0" fill="#fff"/>
<circle cx="1067.4" cy="591.3" r="5.55"/>
<circle cx="1071.7" cy="490.5" r="10.0" fill="#fff"/>
<circle cx="1071.7" cy="490.5" r="5.55"/>
<circle cx="1076.0" cy="359.5" r="10.0" fill="#fff"/>
<circle cx="1076.0" cy="359.5" r="5.55"/>
<circle cx="1080.2" cy="453.5" r="10.0" fill="#fff"/>
<circle cx="1080.2" cy="453.5" r="5.55"/>
<circle cx="1084.5" cy="511.5" r="10.0" fill="#fff"/>
<circle cx="1084.5" cy="511.5" r="5.55"/>
<circle cx="1088.8" cy="680.4" r="10.0" fill="#fff"/>
<circle cx="1088.8" cy="680.4" r="5.55"/>
<circle cx="1093.1" cy="838.5" r="10.0" fill="#fff"/>
<circle cx="1097.4" cy="838.5" r="10.0" fill="#fff"/>
<circle cx="1101.7" cy="838.5" r="10.0" fill="#fff"/>
<circle cx="1105.9" cy="838.5" r="10.0" fill="#fff"/>
<circle cx="1110.2" cy="838.5" r="10.0" fill="#fff"/>
<circle cx="1114.5" cy="838.5" r="10.0" fill="#fff"/>
<circle cx="1114.5" cy="838.5" r="5.55"/>
<path d="M91.45 835.23A5.55 5.55 0 0 0 91.45 841.77M104.29 835.23A5.55 5.55 0 0 0 104.29 841.77M121.41 835.23A5.55 5.55 0 0 0 121.41 841.77M134.25 835.23A5.55 5.55 0 0 0 134.25 841.77M151.37 835.23A5.55 5.55 0 0 0 151.37 841.77M168.49 835.23A5.55 5.55 0 0 0 168.49 841.77M181.33 835.23A5.55 5.55 0 0 0 181.33 841.77M198.45 835.23A5.55 5.55 0 0 0 198.45 841.77M241.25 463.23A5.55 5.55 0 0 0 241.25 469.77M639.29 440.23A5.55 5.55 0 0 0 639.29 446.77M990.25 835.23A5.55 5.55 0 0 0 990.25 841.77M1097.25 835.23A5.55 5.55 0 0 0 1097.25 841.77" fill="none" stroke="#ff7f0e" stroke-width="0.8" stroke-opacity="0.5"/>
</g>
<g fill="#2ca02c">
<path d="M95.8 838.5 L100.1 838.5 L104.4 838.5 L108.7 838.5 L113.0 838.5 L117.2 838.5 L121.5 838.5 L125.8 838.5 L130.1 838.5 L134.4 838.5 L138.7 838.5 L142.9 838.5 L147.2 838.5 L151.5 838.5 L155.8 838.5 L160.1 838.5 L164.3 838.5 L168.6 838.5 L172.9 838.5 L177.2 838.5 L181.4 838.5 L185.7 835.3 L190.0 838.5 L194.3 838.5 L198.6 838.5 L202.8 836.6 L207.1 838.5 L211.4 838.5 L215.7 838.5 L220.0 831.2 L224.2 762.7 L228.5 757.7 L232.8 756.0 L237.1 753.5 L241.4 741.0 L245.7 784.4 L249.9 769.4 L254.2 755.6 L258.5 750.5 L262.8 755.5 L267.1 752.6 L271.3 744.6 L275.6 743.9 L279.9 755.6 L284.2 757.6 L288.5 747.2 L292.7 773.5 L297.0 755.5 L301.3 755.1 L305.6 744.1 L309.9 756.4 L314.1 743.0 L318.4 751.8 L322.7 738.4 L327.0 705.5 L331.2 733.0 L335.5 728.8 L339.8 734.3 L344.1 734.3 L348.4 753.6 L352.6 753.4 L356.9 763.5 L361.2 750.5 L365.5 782.4 L369.8 765.8 L374.0 761.8 L378.3 756.5 L382.6 773.5 L386.9 786.8 L391.2 776.4 L395.5 781.6 L399.7 757.7 L404.0 744.0 L408.3 745.8 L412.6 744.2 L416.9 736.3 L421.1 781.9 L425.4 777.7 L429.7 768.2 L434.0 748.5 L438.2 734.3 L442.5 706.7 L446.8 672.5 L451.1 689.5 L455.4 702.5 L459.6 725.4 L463.9 705.0 L468.2 699.2 L472.5 757.3 L476.8 726.3 L481.1 273.4 L485.3 64.4 L489.6 274.4 L493.9 750.2 L498.2 678.7 L502.5 666.2 L506.7 722.1 L511.0 838.5 L515.3 733.4 L519.6 661.5 L523.9 750.2 L528.1 767.4 L532.4 838.5 L536.7 835.5 L541.0 838.3 L545.2 824.2 L549.5 740.5 L553.8 722.2 L558.1 686.2 L562.4 790.3 L566.6 756.5 L570.9 736.8 L575.2 707.2 L579.5 730.4 L583.8 838.5 L588.1 838.5 L592.3 838.5 L596.6 808.6 L600.9 790.3 L605.2 744.3 L609.5 735.5 L613.7 739.3 L618.0 776.5 L622.3 757.5 L626.6 744.3 L630.9 709.5 L635.1 691.5 L639.4 817.5 L643.7 784.4 L648.0 746.4 L652.2 730.5 L656.5 747.4 L660.8 716.3 L665.1 764.0 L669.4 777.2 L673.7 710.4 L677.9 660.6 L682.2 832.6 L686.5 837.8 L690.8 838.5 L695.1 836.4 L699.3 312.6 L703.6 193.4 L707.9 308.4 L712.2 807.5 L716.5 738.5 L720.7 752.7 L725.0 741.3 L729.3 699.5 L733.6 837.6 L737.9 808.3 L742.1 762.3 L746.4 674.5 L750.7 661.5 L755.0 838.0 L759.3 786.4 L763.5 755.2 L767.8 747.6 L772.1 716.2 L776.4 754.3 L780.7 838.5 L784.9 835.5 L789.2 838.5 L793.5 834.3 L797.8 731.8 L802.1 705.4 L806.3 729.3 L810.6 735.4 L814.9 769.4 L819.2 777.2 L823.5 752.7 L827.7 695.5 L832.0 772.4 L836.3 634.4 L840.6 837.6 L844.9 764.4 L849.1 722.6 L853.4 695.5 L857.7 752.7 L862.0 838.0 L866.3 734.3 L870.5 648.6 L874.8 739.3 L879.1 703.4 L883.4 838.5 L887.7 838.5 L891.9 838.5 L896.2 838.0 L900.5 781.4 L904.8 701.7 L909.1 700.4 L913.3 751.5 L917.6 773.2 L921.9 752.3 L926.2 727.3 L930.5 680.4 L934.7 838.5 L939.0 838.5 L943.3 838.5 L947.6 838.0 L951.9 769.4 L956.1 723.4 L960.4 687.9 L964.7 748.5 L969.0 824.2 L973.3 730.1 L977.5 738.5 L981.8 683.4 L986.1 790.3 L990.4 838.5 L994.7 838.0 L998.9 837.4 L1003.2 838.0 L1007.5 765.5 L1011.8 744.3 L1016.1 706.4 L1020.3 734.3 L1024.6 723.4 L1028.9 768.4 L1033.2 771.4 L1037.5 784.4 L1041.7 683.4 L1046.0 834.5 L1050.3 838.5 L1054.6 838.0 L1058.8 779.4 L1063.1 710.9 L1067.4 701.4 L1071.7 739.6 L1076.0 816.1 L1080.2 713.4 L1084.5 705.4 L1088.8 759.3 L1093.1 838.5 L1097.4 838.5 L1101.7 838.5 L1105.9 838.5 L1110.2 838.5 L1114.5 838.5" fill="none" stroke="#2ca02c" stroke-width="2" stroke-linejoin="round"/>
<circle cx="95.8" cy="838.5" r="10.0" fill="#fff"/>
<circle cx="100.1" cy="838.5" r="10.0" fill="#fff"/>
<circle cx="104.4" cy="838.5" r="10.0" fill="#fff"/>
<circle cx="108.7" cy="838.5" r="10.0" fill="#fff"/>
<circle cx="113.0" cy="838.5" r="10.0" fill="#fff"/>
<circle cx="117.2" cy="838.5" r="10.0" fill="#fff"/>
<circle cx="121.5" cy="838.5" r="10.0" fill="#fff"/>
<circle cx="125.8" cy="838.5" r="10.0" fill="#fff"/>
<circle cx="130.1" cy="838.5" r="10.0" fill="#fff"/>
<circle cx="134.4" cy="838.5" r="10.0" fill="#fff"/>
<circle cx="138.7" cy="838.5" r="10.0" fill="#fff"/>
<circle cx="142.9" cy="838.5" r="10.0" fill="#fff"/>
<circle cx="147.2" cy="838.5" r="10.0" fill="#fff"/>
<circle cx="151.5" cy="838.5" r="10.0" fill="#fff"/>
<circle cx="155.8" cy="838.5" r="10.0" fill="#fff"/>
<circle cx="160.1" cy="838.5" r="10.0" fill="#fff"/>
<circle cx="164.3" cy="838.5" r="10.0" fill="#fff"/>
<circle cx="168.6" cy="838.5" r="10.0" fill="#fff"/>
<circle cx="172.9" cy="838.5" r="10.0" fill="#fff"/>
<circle cx="177.2" cy="838.5" r="10.0" fill="#fff"/>
<circle cx="181.4" cy="838.5" r="10.0" fill="#fff"/>
<circle cx="181.4" cy="838.5" r="5.55"/>
<circle cx="185.7" cy="835.3" r="10.0" fill="#fff"/>
<circle cx="185.7" cy="835.3" r="5.55"/>
<circle cx="190.0" cy="838.5" r="10.0" fill="#fff"/>
<circle cx="194.3" cy="838.5" r="10.0" fill="#fff"/>
<circle cx="198.6" cy="838.5" r="10.0" fill="#fff"/>
<circle cx="198.6" cy="838.5" r="5.55"/>
<circle cx="202.8" cy="836.6" r="10.0" fill="#fff"/>
<circle cx="202.8" cy="836.6" r="5.55"/>
<circle cx="207.1" cy="838.5" r="10.0" fill="#fff"/>
<circle cx="211.4" cy="838.5" r="10.0" fill="#fff"/>
<circle cx="215.7" cy="838.5" r="10.0" fill="#fff"/>
<circle cx="215.7" cy="838.5" r="5.55"/>
<circle cx="220.0" cy="831.2" r="10.0" fill="#fff"/>
<circle cx="220.0" cy="831.2" r="5.55"/>
<circle cx="224.2" cy="762.7" r="10.0" fill="#fff"/>
<circle cx="224.2" cy="762.7" r="5.55"/>
<circle cx="228.5" cy="757.7" r="10.0" fill="#fff"/>
<circle cx="228.5" cy="757.7" r="5.55"/>
<circle cx="232.8" cy="756.0" r="10.0" fill="#fff"/>
<circle cx="232.8" cy="756.0" r="5.55"/>
<circle cx="237.1" cy="753.5" r="10.0" fill="#fff"/>
<circle cx="237.1" cy="753.5" r="5.55"/>
<circle cx="241.4" cy="741.0" r="10.0" fill="#fff"/>
<circle cx="241.4" cy="741.0" r="5.55"/>
<circle cx="245.7" cy="784.4" r="10.0" fill="#fff"/>
<circle cx="245.7" cy="784.4" r="5.55"/>
<circle cx="249.9" cy="769.4" r="10.0" fill="#fff"/>
<circle cx="249.9" cy="769.4" r="5.55"/>
<circle cx="254.2" cy="755.6" r="10.0" fill="#fff"/>
<circle cx="254.2" cy="755.6" r="5.55"/>
<circle cx="258.5" cy="750.5" r="10.0" fill="#fff"/>
<circle cx="258.5" cy="750.5" r="5.55"/>
<circle cx="262.8" cy="755.5" r="10.0" fill="#fff"/>
<circle cx="262.8" cy="755.5" r="5.55"/>
<circle cx="267.1" cy="752.6" r="10.0" fill="#fff"/>
<circle cx="267.1" cy="752.6" r="5.55"/>
<circle cx="271.3" cy="744.6" r="10.0" fill="#fff"/>
<circle cx="275.6" cy="743.9" r="10.0" fill="#fff"/>
<circle cx="275.6" cy="743.9" r="5.55"/>
<circle cx="279.9" cy="755.6" r="10.0" fill="#fff"/>
<circle cx="279.9" cy="755.6" r="5.55"/>
<circle cx="284.2" cy="757.6" r="10.0" fill="#fff"/>
<circle cx="284.2" cy="757.6" r="5.55"/>
<circle cx="288.5" cy="747.2" r="10.0" fill="#fff"/>
<circle cx="288.5" cy="747.2" r="5.55"/>
<circle cx="292.7" cy="773.5" r="10.0" fill="#fff"/>
<circle cx="292.7" cy="773.5" r="5.55"/>
<circle cx="297.0" cy="755.5" r="10.0" fill="#fff"/>
<circle cx="301.3" cy="755.1" r="10.0" fill="#fff"/>
<circle cx="301.3" cy="755.1" r="5.55"/>
<circle cx="305.6" cy="744.1" r="10.0" fill="#fff"/>
<circle cx="305.6" cy="744.1" r="5.55"/>
<circle cx="309.9" cy="756.4" r="10.0" fill="#fff"/>
<circle cx="309.9" cy="756.4" r="5.55"/>
<circle cx="314.1" cy="743.0" r="10.0" fill="#fff"/>
<circle cx="314.1" cy="743.0" r="5.55"/>
<circle cx="318.4" cy="751.8" r="10.0" fill="#fff"/>
<circle cx="318.4" cy="751.8" r="5.55"/>
<circle cx="322.7" cy="738.4" r="10.0" fill="#fff"/>
<circle cx="322.7" cy="738.4" r="5.55"/>
<circle cx="327.0" cy="705.5" r="10.0" fill="#fff"/>
<circle cx="327.0" cy="705.5" r="5.55"/>
<circle cx="331.2" cy="733.0" r="10.0" fill="#fff"/>
<circle cx="331.2" cy="733.0" r="5.55"/>
<circle cx="335.5" cy="728.8" r="10.0" fill="#fff"/>
<circle cx="335.5" cy="728.8" r="5.55"/>
<circle cx="339.8" cy="734.3" r="10.0" fill="#fff"/>
<circle cx="344.1" cy="734.3" r="10.0" fill="#fff"/>
<circle cx="344.1" cy="734.3" r="5.55"/>
<circle cx="348.4" cy="753.6" r="10.0" fill="#fff"/>
<circle cx="352.6" cy="753.4" r="10.0" fill="#fff"/>
<circle cx="352.6" cy="753.4" r="5.55"/>
<circle cx="356.9" cy="763.5" r="10.0" fill="#fff"/>
<circle cx="356.9" cy="763.5" r="5.55"/>
<circle cx="361.2" cy="750.5" r="10.0" fill="#fff"/>
<circle cx="361.2" cy="750.5" r="5.55"/>
<circle cx="365.5" cy="782.4" r="10.0" fill="#fff"/>
<circle cx="365.5" cy="782.4" r="5.55"/>
<circle cx="369.8" cy="765.8" r="10.0" fill="#fff"/>
<circle cx="369.8" cy="765.8" r="5.55"/>
<circle cx="374.0" cy="761.8" r="10.0" fill="#fff"/>
<circle cx="374.0" cy="761.8" r="5.55"/>
<circle cx="378.3" cy="756.5" r="10.0" fill="#fff"/>
<circle cx="378.3" cy="756.5" r="5.55"/>
<circle cx="382.6" cy="773.5" r="10.0" fill="#fff"/>
<circle cx="382.6" cy="773.5" r="5.55"/>
<circle cx="386.9" cy="786.8" r="10.0" fill="#fff"/>
<circle cx="386.9" cy="786.8" r="5.55"/>
<circle cx="391.2" cy="776.4" r="10.0" fill="#fff"/>
<circle cx="391.2" cy="776.4" r="5.55"/>
<circle cx="395.5" cy="781.6" r="10.0" fill="#fff"/>
<circle cx="395.5" cy="781.6" r="5.55"/>
<circle cx="399.7" cy="757.7" r="10.0" fill="#fff"/>
<circle cx="399.7" cy="757.7" r="5.55"/>
<circle cx="404.0" cy="744.0" r="10.0" fill="#fff"/>
<circle cx="404.0" cy="744.0" r="5.55"/>
<circle cx="408.3" cy="745.8" r="10.0" fill="#fff"/>
<circle cx="408.3" cy="745.8" r="5.55"/>
<circle cx="412.6" cy="744.2" r="10.0" fill="#fff"/>
<circle cx="412.6" cy="744.2" r="5.55"/>
<circle cx="416.9" cy="736.3" r="10.0" fill="#fff"/>
<circle cx="416.9" cy="736.3" r="5.55"/>
<circle cx="421.1" cy="781.9" r="10.0" fill="#fff"/>
<circle cx="421.1" cy="781.9" r="5.55"/>
<circle cx="425.4" cy="777.7" r="10.0" fill="#fff"/>
<circle cx="425.4" cy="777.7" r="5.55"/>
<circle cx="429.7" cy="768.2" r="10.0" fill="#fff"/>
<circle cx="429.7" cy="768.2" r="5.55"/>
<circle cx="434.0" cy="748.5" r="10.0" fill="#fff"/>
<circle cx="434.0" cy="748.5" r="5.55"/>
<circle cx="438.2" cy="734.3" r="10.0" fill="#fff"/>
<circle cx="438.2" cy="734.3" r="5.55"/>
<circle cx="442.5" cy="706.7" r="10.0" fill="#fff"/>
<circle cx="442.5" cy="706.7" r="5.55"/>
<circle cx="446.8" cy="672.5" r="10.0" fill="#fff"/>
<circle cx="446.8" cy="672.5" r="5.55"/>
<circle cx="451.1" cy="689.5" r="10.0" fill="#fff"/>
<circle cx="451.1" cy="689.5" r="5.55"/>
<circle cx="455.4" cy="702.5" r="10.0" fill="#fff"/>
<circle cx="455.4" cy="702.5" r="5.55"/>
<circle cx="459.6" cy="725.4" r="10.0" fill="#fff"/>
<circle cx="459.6" cy="725.4" r="5.55"/>
<circle cx="463.9" cy="705.0" r="10.0" fill="#fff"/>
<circle cx="463.9" cy="705.0" r="5.55"/>
<circle cx="468.2" cy="699.2" r="10.0" fill="#fff"/>
<circle cx="468.2" cy="699.2" r="5.55"/>
<circle cx="472.5" cy="757.3" r="10.0" fill="#fff"/>
<circle cx="472.5" cy="757.3" r="5.55"/>
<circle cx="476.8" cy="726.3" r="10.0" fill="#fff"/>
<circle cx="476.8" cy="726.3" r="5.55"/>
<circle cx="481.1" cy="273.4" r="10.0" fill="#fff"/>
<circle cx="481.1" cy="273.4" r="5.55"/>
<circle cx="485.3" cy="64.4" r="10.0" fill="#fff"/>
<circle cx="485.3" cy="64.4" r="5.55"/>
<circle cx="489.6" cy="274.4" r="10.0" fill="#fff"/>
<circle cx="489.6" cy="274.4" r="5.55"/>
<circle cx="493.9" cy="750.2" r="10.0" fill="#fff"/>
<circle cx="493.9" cy="750.2" r="5.55"/>
<circle cx="498.2" cy="678.7" r="10.0" fill="#fff"/>
<circle cx="498.2" cy="678.7" r="5.55"/>
<circle cx="502.5" cy="666.2" r="10.0" fill="#fff"/>
<circle cx="502.5" cy="666.2" r="5.55"/>
<circle cx="506.7" cy="722.1" r="10.0" fill="#fff"/>
<circle cx="506.7" cy="722.1" r="5.55"/>
<circle cx="511.0" cy="838.5" r="10.0" fill="#fff"/>
<circle cx="511.0" cy="838.5" r="5.55"/>
<circle cx="515.3" cy="733.4" r="10.0" fill="#fff"/>
<circle cx="515.3" cy="733.4" r="5.55"/>
<circle cx="519.6" cy="661.5" r="10.0" fill="#fff"/>
<circle cx="519.6" cy="661.5" r="5.55"/>
<circle cx="523.9" cy="750.2" r="10.0" fill="#fff"/>
<circle cx="523.9" cy="750.2" r="5.55"/>
<circle cx="528.1" cy="767.4" r="10.0" fill="#fff"/>
<circle cx="528.1" cy="767.4" r="5.55"/>
<circle cx="532.4" cy="838.5" r="10.0" fill="#fff"/>
<circle cx="532.4" cy="838.5" r="5.55"/>
<circle cx="536.7" cy="835.5" r="10.0" fill="#fff"/>
<circle cx="536.7" cy="835.5" r="5.55"/>
<circle cx="541.0" cy="838.3" r="10.0" fill="#fff"/>
<circle cx="541.0" cy="838.3" r="5.55"/>
<circle cx="545.2" cy="824.2" r="10.0" fill="#fff"/>
<circle cx="545.2" cy="824.2" r="5.55"/>
<circle cx="549.5" cy="740.5" r="10.0" fill="#fff"/>
<circle cx="549.5" cy="740.5" r="5.55"/>
<circle cx="553.8" cy="722.2" r="10.0" fill="#fff"/>
<circle cx="553.8" cy="722.2" r="5.55"/>
<circle cx="558.1" cy="686.2" r="10.0" fill="#fff"/>
<circle cx="558.1" cy="686.2" r="5.55"/>
<circle cx="562.4" cy="790.3" r="10.0" fill="#fff"/>
<circle cx="562.4" cy="790.3" r="5.55"/>
<circle cx="566.6" cy="756.5" r="10.0" fill="#fff"/>
<circle cx="566.6" cy="756.5" r="5.55"/>
<circle cx="570.9" cy="736.8" r="10.0" fill="#fff"/>
<circle cx="570.9" cy="736.8" r="5.55"/>
<circle cx="575.2" cy="707.2" r="10.0" fill="#fff"/>
<circle cx="575.2" cy="707.2" r="5.55"/>
<circle cx="579.5" cy="730.4" r="10.0" fill="#fff"/>
<circle cx="579.5" cy="730.4" r="5.55"/>
<circle cx="583.8" cy="838.5" r="10.0" fill="#fff"/>
<circle cx="588.1" cy="838.5" r="10.0" fill="#fff"/>
<circle cx="592.3" cy="838.5" r="10.0" fill="#fff"/>
<circle cx="592.3" cy="838.5" r="5.55"/>
<circle cx="596.6" cy="808.6" r="10.0" fill="#fff"/>
<circle cx="596.6" cy="808.6" r="5.55"/>
<circle cx="600.9" cy="790.3" r="10.0" fill="#fff"/>
<circle cx="600.9" cy="790.3" r="5.55"/>
<circle cx="605.2" cy="744.3" r="10.0" fill="#fff"/>
<circle cx="605.2" cy="744.3" r="5.55"/>
<circle cx="609.5" cy="735.5" r="10.0" fill="#fff"/>
<circle cx="609.5" cy="735.5" r="5.55"/>
<circle cx="613.7" cy="739.3" r="10.0" fill="#fff"/>
<circle cx="613.7" cy="739.3" r="5.55"/>
<circle cx="618.0" cy="776.5" r="10.0" fill="#fff"/>
<circle cx="618.0" cy="776.5" r="5.55"/>
<circle cx="622.3" cy="757.5" r="10.0" fill="#fff"/>
<circle cx="622.3" cy="757.5" r="5.55"/>
<circle cx="626.6" cy="744.3" r="10.0" fill="#fff"/>
<circle cx="626.6" cy="744.3" r="5.55"/>
<circle cx="630.9" cy="709.5" r="10.0" fill="#fff"/>
<circle cx="630.9" cy="709.5" r="5.55"/>
<circle cx="635.1" cy="691.5" r="10.0" fill="#fff"/>
<circle cx="635.1" cy="691.5" r="5.55"/>
<circle cx="639.4" cy="817.5" r="10.0" fill="#fff"/>
<circle cx="639.4" cy="817.5" r="5.55"/>
<circle cx="643.7" cy="784.4" r="10.0" fill="#fff"/>
<circle cx="643.7" cy="784.4" r="5.55"/>
<circle cx="648.0" cy="746.4" r="10.0" fill="#fff"/>
<circle cx="648.0" cy="746.4" r="5.55"/>
<circle cx="652.2" cy="730.5" r="10.0" fill="#fff"/>
<circle cx="652.2" cy="730.5" r="5.55"/>
<circle cx="656.5" cy="747.4" r="10.0" fill="#fff"/>
<circle cx="656.5" cy="747.4" r="5.55"/>
<circle cx="660.8" cy="716.3" r="10.0" fill="#fff"/>
<circle cx="660.8" cy="716.3" r="5.55"/>
<circle cx="665.1" cy="764.0" r="10.0" fill="#fff"/>
<circle cx="665.1" cy="764.0" r="5.55"/>
<circle cx="669.4" cy="777.2" r="10.0" fill="#fff"/>
<circle cx="669.4" cy="777.2" r="5.55"/>
<circle cx="673.7" cy="710.4" r="10.0" fill="#fff"/>
<circle cx="673.7" cy="710.4" r="5.55"/>
<circle cx="677.9" cy="660.6" r="10.0" fill="#fff"/>
<circle cx="677.9" cy="660.6" r="5.55"/>
<circle cx="682.2" cy="832.6" r="10.0" fill="#fff"/>
<circle cx="682.2" cy="832.6" r="5.55"/>
<circle cx="686.5" cy="837.8" r="10.0" fill="#fff"/>
<circle cx="690.8" cy="838.5" r="10.0" fill="#fff"/>
<circle cx="690.8" cy="838.5" r="5.55"/>
<circle cx="695.1" cy="836.4" r="10.0" fill="#fff"/>
<circle cx="695.1" cy="836.4" r="5.55"/>
<circle cx="699.3" cy="312.6" r="10.0" fill="#fff"/>
<circle cx="699.3" cy="312.6" r="5.55"/>
<circle cx="703.6" cy="193.4" r="10.0" fill="#fff"/>
<circle cx="703.6" cy="193.4" r="5.55"/>
<circle cx="707.9" cy="308.4" r="10.0" fill="#fff"/>
<circle cx="707.9" cy="308.4" r="5.55"/>
<circle cx="712.2" cy="807.5" r="10.0" fill="#fff"/>
<circle cx="712.2" cy="807.5" r="5.55"/>
<circle cx="716.5" cy="738.5" r="10.0" fill="#fff"/>
<circle cx="716.5" cy="738.5" r="5.55"/>
<circle cx="720.7" cy="752.7" r="10.0" fill="#fff"/>
<circle cx="720.7" cy="752.7" r="5.55"/>
<circle cx="725.0" cy="741.3" r="10.0" fill="#fff"/>
<circle cx="725.0" cy="741.3" r="5.55"/>
<circle cx="729.3" cy="699.5" r="10.0" fill="#fff"/>
<circle cx="729.3" cy="699.5" r="5.55"/>
<circle cx="733.6" cy="837.6" r="10.0" fill="#fff"/>
<circle cx="733.6" cy="837.6" r="5.55"/>
<circle cx="737.9" cy="808.3" r="10.0" fill="#fff"/>
<circle cx="737.9" cy="808.3" r="5.55"/>
<circle cx="742.1" cy="762.3" r="10.0" fill="#fff"/>
<circle cx="742.1" cy="762.3" r="5.55"/>
<circle cx="746.4" cy="674.5" r="10.0" fill="#fff"/>
<circle cx="746.4" cy="674.5" r="5.55"/>
<circle cx="750.7" cy="661.5" r="10.0" fill="#fff"/>
<circle cx="750.7" cy="661.5" r="5.55"/>
<circle cx="755.0" cy="838.0" r="10.0" fill="#fff"/>
<circle cx="755.0" cy="838.0" r="5.55"/>
<circle cx="759.3" cy="786.4" r="10.0" fill="#fff"/>
<circle cx="759.3" cy="786.4" r="5.55"/>
<circle cx="763.5" cy="755.2" r="10.0" fill="#fff"/>
<circle cx="763.5" cy="755.2" r="5.55"/>
<circle cx="767.8" cy="747.6" r="10.0" fill="#fff"/>
<circle cx="767.8" cy="747.6" r="5.55"/>
<circle cx="772.1" cy="716.2" r="10.0" fill="#fff"/>
<circle cx="772.1" cy="716.2" r="5.55"/>
<circle cx="776.4" cy="754.3" r="10.0" fill="#fff"/>
<circle cx="776.4" cy="754.3" r="5.55"/>
<circle cx="780.7" cy="838.5" r="10.0" fill="#fff"/>
<circle cx="780.7" cy="838.5" r="5.55"/>
<circle cx="784.9" cy="835.5" r="10.0" fill="#fff"/>
<circle cx="784.9" cy="835.5" r="5.55"/>
<circle cx="789.2" cy="838.5" r="10.0" fill="#fff"/>
<circle cx="789.2" cy="838.5" r="5.55"/>
<circle cx="793.5" cy="834.3" r="10.0" fill="#fff"/>
<circle cx="793.5" cy="834.3" r="5.55"/>
<circle cx="797.8" cy="731.8" r="10.0" fill="#fff"/>
<circle cx="797.8" cy="731.8" r="5.55"/>
<circle cx="802.1" cy="705.4" r="10.0" fill="#fff"/>
<circle cx="802.1" cy="705.4" r="5.55"/>
<circle cx="806.3" cy="729.3" r="10.0" fill="#fff"/>
<circle cx="806.3" cy="729.3" r="5.55"/>
<circle cx="810.6" cy="735.4" r="10.0" fill="#fff"/>
<circle cx="810.6" cy="735.4" r="5.55"/>
<circle cx="814.9" cy="769.4" r="10.0" fill="#fff"/>
<circle cx="814.9" cy="769.4" r="5.55"/>
<circle cx="819.2" cy="777.2" r="10.0" fill="#fff"/>
<circle cx="819.2" cy="777.2" r="5.55"/>
<circle cx="823.5" cy="752.7" r="10.0" fill="#fff"/>
<circle cx="823.5" cy="752.7" r="5.55"/>
<circle cx="827.7" cy="695.5" r="10.0" fill="#fff"/>
<circle cx="827.7" cy="695.5" r="5.55"/>
<circle cx="832.0" cy="772.4" r="10.0" fill="#fff"/>
<circle cx="832.0" cy="772.4" r="5.55"/>
<circle cx="836.3" cy="634.4" r="10.0" fill="#fff"/>
<circle cx="836.3" cy="634.4" r="5.55"/>
<circle cx="840.6" cy="837.6" r="10.0" fill="#fff"/>
<circle cx="840.6" cy="837.6" r="5.55"/>
<circle cx="844.9" cy="764.4" r="10.0" fill="#fff"/>
<circle cx="844.9" cy="764.4" r="5.55"/>
<circle cx="849.1" cy="722.6" r="10.0" fill="#fff"/>
<circle cx="849.1" cy="722.6" r="5.55"/>
<circle cx="853.4" cy="695.5" r="10.0" fill="#fff"/>
<circle cx="853.4" cy="695.5" r="5.55"/>
<circle cx="857.7" cy="752.7" r="10.0" fill="#fff"/>
<circle cx="857.7" cy="752.7" r="5.55"/>
<circle cx="862.0" cy="838.0" r="10.0" fill="#fff"/>
<circle cx="862.0" cy="838.0" r="5.55"/>
<circle cx="866.3" cy="734.3" r="10.0" fill="#fff"/>
<circle cx="866.3" cy="734.3" r="5.55"/>
<circle cx="870.5" cy="648.6" r="10.0" fill="#fff"/>
<circle cx="870.5" cy="648.6" r="5.55"/>
<circle cx="874.8" cy="739.3" r="10.0" fill="#fff"/>
<circle cx="874.8" cy="739.3" r="5.55"/>
<circle cx="879.1" cy="703.4" r="10.0" fill="#fff"/>
<circle cx="879.1" cy="703.4" r="5.55"/>
<circle cx="883.4" cy="838.5" r="10.0" fill="#fff"/>
<circle cx="887.7" cy="838.5" r="10.0" fill="#fff"/>
<circle cx="891.9" cy="838.5" r="10.0" fill="#fff"/>
<circle cx="896.2" cy="838.0" r="10.0" fill="#fff"/>
<circle cx="896.2" cy="838.0" r="5.55"/>
<circle cx="900.5" cy="781.4" r="10.0" fill="#fff"/>
<circle cx="900.5" cy="781.4" r="5.55"/>
<circle cx="904.8" cy="701.7" r="10.0" fill="#fff"/>
<circle cx="909.1" cy="700.4" r="10.0" fill="#fff"/>
<circle cx="909.1" cy="700.4" r="5.55"/>
<circle cx="913.3" cy="751.5" r="10.0" fill="#fff"/>
<circle cx="913.3" cy="751.5" r="5.55"/>
<circle cx="917.6" cy="773.2" r="10.0" fill="#fff"/>
<circle cx="917.6" cy="773.2" r="5.55"/>
<circle cx="921.9" cy="752.3" r="10.0" fill="#fff"/>
<circle cx="921.9" cy="752.3" r="5.55"/>
<circle cx="926.2" cy="727.3" r="10.0" fill="#fff"/>
<circle cx="926.2" cy="727.3" r="5.55"/>
<circle cx="930.5" cy="680.4" r="10.0" fill="#fff"/>
<circle cx="930.5" cy="680.4" r="5.55"/>
<circle cx="934.7" cy="838.5" r="10.0" fill="#fff"/>
<circle cx="939.0" cy="838.5" r="10.0" fill="#fff"/>
<circle cx="943.3" cy="838.5" r="10.0" fill="#fff"/>
<circle cx="947.6" cy="838.0" r="10.0" fill="#fff"/>
<circle cx="947.6" cy="838.0" r="5.55"/>
<circle cx="951.9" cy="769.4" r="10.0" fill="#fff"/>
<circle cx="951.9" cy="769.4" r="5.55"/>
<circle cx="956.1" cy="723.4" r="10.0" fill="#fff"/>
<circle cx="956.1" cy="723.4" r="5.55"/>
<circle cx="960.4" cy="687.9" r="10.0" fill="#fff"/>
<circle cx="960.4" cy="687.9" r="5.55"/>
<circle cx="964.7" cy="748.5" r="10.0" fill="#fff"/>
<circle cx="964.7" cy="748.5" r="5.55"/>
<circle cx="969.0" cy="824.2" r="10.0" fill="#fff"/>
<circle cx="969.0" cy="824.2" r="5.55"/>
<circle cx="973.3" cy="730.1" r="10.0" fill="#fff"/>
<circle cx="973.3" cy="730.1" r="5.55"/>
<circle cx="977.5" cy="738.5" r="10.0" fill="#fff"/>
<circle cx="977.5" cy="738.5" r="5.55"/>
<circle cx="981.8" cy="683.4" r="10.0" fill="#fff"/>
<circle cx="981.8" cy="683.4" r="5.55"/>
<circle cx="986.1" cy="790.3" r="10.0" fill="#fff"/>
<circle cx="986.1" cy="790.3" r="5.55"/>
<circle cx="990.4" cy="838.5" r="10.0" fill="#fff"/>
<circle cx="994.7" cy="838.0" r="10.0" fill="#fff"/>
<circle cx="998.9" cy="837.4" r="10.0" fill="#fff"/>
<circle cx="1003.2" cy="838.0" r="10.0" fill="#fff"/>
<circle cx="1003.2" cy="838.0" r="5.55"/>
<circle cx="1007.5" cy="765.5" r="10.0" fill="#fff"/>
<circle cx="1007.5" cy="765.5" r="5.55"/>
<circle cx="1011.8" cy="744.3" r="10.0" fill="#fff"/>
<circle cx="1011.8" cy="744.3" r="5.55"/>
<circle cx="1016.1" cy="706.4" r="10.0" fill="#fff"/>
<circle cx="1016.1" cy="706.4" r="5.55"/>
<circle cx="1020.3" cy="734.3" r="10.0" fill="#fff"/>
<circle cx="1020.3" cy="734.3" r="5.55"/>
<circle cx="1024.6" cy="723.4" r="10.0" fill="#fff"/>
<circle cx="1024.6" cy="723.4" r="5.55"/>
<circle cx="1028.9" cy="768.4" r="10.0" fill="#fff"/>
<circle cx="1028.9" cy="768.4" r="5.55"/>
<circle cx="1033.2" cy="771.4" r="10.0" fill="#fff"/>
<circle cx="1033.2" cy="771.4" r="5.55"/>
<circle cx="1037.5" cy="784.4" r="10.0" fill="#fff"/>
<circle cx="1037.5" cy="784.4" r="5.55"/>
<circle cx="1041.7" cy="683.4" r="10.0" fill="#fff"/>
<circle cx="1041.7" cy="683.4" r="5.55"/>
<circle cx="1046.0" cy="834.5" r="10.0" fill="#fff"/>
<circle cx="1046.0" cy="834.5" r="5.55"/>
<circle cx="1050.3" cy="838.5" r="10.0" fill="#fff"/>
<circle cx="1054.6" cy="838.0" r="10.0" fill="#fff"/>
<circle cx="1054.6" cy="838.0" r="5.55"/>
<circle cx="1058.8" cy="779.4" r="10.0" fill="#fff"/>
<circle cx="1058.8" cy="779.4" r="5.55"/>
<circle cx="1063.1" cy="710.9" r="10.0" fill="#fff"/>
<circle cx="1063.1" cy="710.9" r="5.55"/>
<circle cx="1067.4" cy="701.4" r="10.0" fill="#fff"/>
<circle cx="1067.4" cy="701.4" r="5.55"/>
<circle cx="1071.7" cy="739.6" r="10.0" fill="#fff"/>
<circle cx="1071.7" cy="739.6" r="5.55"/>
<circle cx="1076.0" cy="816.1" r="10.0" fill="#fff"/>
<circle cx="1076.0" cy="816.1" r="5.55"/>
<circle cx="1080.2" cy="713.4" r="10.0" fill="#fff"/>
<circle cx="1080.2" cy="713.4" r="5.55"/>
<circle cx="1084.5" cy="705.4" r="10.0" fill="#fff"/>
<circle cx="1084.5" cy="705.4" r="5.55"/>
<circle cx="1088.8" cy="759.3" r="10.0" fill="#fff"/>
<circle cx="1088.8" cy="759.3" r="5.55"/>
<circle cx="1093.1" cy="838.5" r="10.0" fill="#fff"/>
<circle cx="1097.4" cy="838.5" r="10.0" fill="#fff"/>
<circle cx="1101.7" cy="838.5" r="10.0" fill="#fff"/>
<circle cx="1105.9" cy="838.5" r="10.0" fill="#fff"/>
<circle cx="1110.2" cy="838.5" r="10.0" fill="#fff"/>
<circle cx="1114.5" cy="838.5" r="10.0" fill="#fff"/>
<circle cx="1114.5" cy="838.5" r="5.55"/>
<path d="M91.45 835.23A5.55 5.55 0 0 0 91.45 841.77M104.29 835.23A5.55 5.55 0 0 0 104.29 841.77M121.41 835.23A5.55 5.55 0 0 0 121.41 841.77M134.25 835.23A5.55 5.55 0 0 0 134.25 841.77M151.37 835.23A5.55 5.55 0 0 0 151.37 841.77M168.49 835.23A5.55 5.55 0 0 0 168.49 841.77M335.41 731.03A5.55 5.55 0 0 0 335.41 737.57M579.37 835.23A5.55 5.55 0 0 0 579.37 841.77M883.25 835.23A5.55 5.55 0 0 0 883.25 841.77M900.37 698.43A5.55 5.55 0 0 0 900.37 704.97M930.33 835.23A5.55 5.55 0 0 0 930.33 841.77M990.25 834.73A5.55 5.55 0 0 0 990.25 841.27M1097.25 835.23A5.55 5.55 0 0 0 1097.25 841.77" fill="none" stroke="#2ca02c" stroke-width="0.8" stroke-opacity="0.5"/>
</g>
<path d="M95.5 57.5V838.5H1165.5" fill="none" stroke="#000" stroke-width="1"/>
</svg></body></html>
